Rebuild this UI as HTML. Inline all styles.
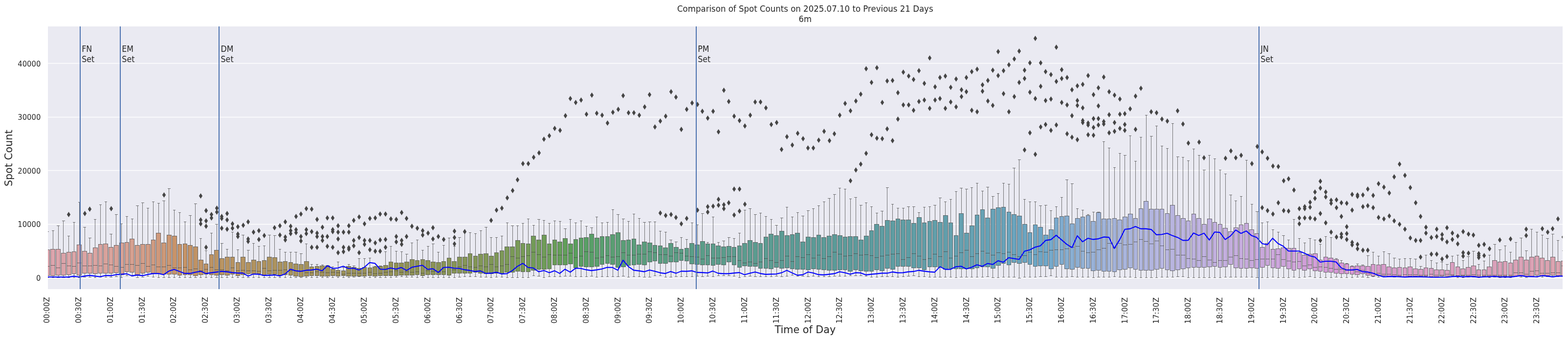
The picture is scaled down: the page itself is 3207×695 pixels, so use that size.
<!DOCTYPE html>
<html lang="en"><head><meta charset="utf-8"><title>Comparison of Spot Counts</title>
<style>html,body{margin:0;padding:0;background:#fff;}body{width:3207px;height:695px;overflow:hidden;}svg{display:block;}text{font-family:"DejaVu Sans","Liberation Sans",sans-serif;fill:#262626;}.tk{font-size:15.28px;}.an{font-size:16.67px;}.ti{font-size:16.67px;}.lb{font-size:20.83px;}.bx{stroke:#454545;stroke-width:0.75;}.wh{stroke:#454545;stroke-width:0.75;fill:none;}.fl{fill:#454545;}</style></head><body>
<svg width="3207" height="695" viewBox="0 0 3207 695">
<rect x="0" y="0" width="3207" height="695" fill="#ffffff"/>
<rect x="98.0" y="54.0" width="3098.0" height="537.0" fill="#eaeaf2"/>
<clipPath id="ax"><rect x="98.0" y="54.0" width="3098.0" height="537.0"/></clipPath>
<g stroke="#ffffff" stroke-width="1.39">
<line x1="98.0" x2="3196.0" y1="568.5" y2="568.5"/>
<line x1="98.0" x2="3196.0" y1="458.5" y2="458.5"/>
<line x1="98.0" x2="3196.0" y1="348.5" y2="348.5"/>
<line x1="98.0" x2="3196.0" y1="239.5" y2="239.5"/>
<line x1="98.0" x2="3196.0" y1="129.5" y2="129.5"/>
</g>
<g clip-path="url(#ax)">
<path class="wh" d="M97.5 510.5V473.5M95.0 473.5H100.0M97.5 563.5V567.5M95.0 567.5H100.0"/>
<rect class="bx" x="93.5" y="510.5" width="8.0" height="53.0" fill="#dca4ad"/>
<path class="wh" d="M93.5 544.5H101.5"/>
<path class="wh" d="M108.5 509.5V471.5M106.0 471.5H111.0M108.5 563.5V567.5M106.0 567.5H111.0"/>
<rect class="bx" x="103.5" y="509.5" width="9.0" height="54.0" fill="#dca4ac"/>
<path class="wh" d="M103.5 542.5H112.5"/>
<path class="wh" d="M119.5 509.5V461.5M116.0 461.5H122.0M119.5 562.5V567.5M116.0 567.5H122.0"/>
<rect class="bx" x="114.5" y="509.5" width="9.0" height="53.0" fill="#dca4ab"/>
<path class="wh" d="M114.5 547.5H123.5"/>
<path class="wh" d="M129.5 517.5V451.5M127.0 451.5H133.0M129.5 562.5V567.5M127.0 567.5H133.0"/>
<rect class="bx" x="125.5" y="517.5" width="9.0" height="45.0" fill="#dca4aa"/>
<path class="wh" d="M125.5 538.5H134.5"/>
<path class="wh" d="M140.5 515.5V482.5M138.0 482.5H143.0M140.5 561.5V567.5M138.0 567.5H143.0"/>
<rect class="bx" x="136.5" y="515.5" width="9.0" height="46.0" fill="#dca5a8"/>
<path class="wh" d="M136.5 543.5H145.5"/>
<path class="wh" d="M151.5 514.5V454.5M149.0 454.5H154.0M151.5 559.5V567.5M149.0 567.5H154.0"/>
<rect class="bx" x="147.5" y="514.5" width="8.0" height="45.0" fill="#dca5a7"/>
<path class="wh" d="M147.5 544.5H155.5"/>
<path class="wh" d="M162.5 500.5V413.5M160.0 413.5H165.0M162.5 562.5V567.5M160.0 567.5H165.0"/>
<rect class="bx" x="157.5" y="500.5" width="9.0" height="62.0" fill="#dca5a6"/>
<path class="wh" d="M157.5 537.5H166.5"/>
<path class="wh" d="M173.5 513.5V464.5M170.0 464.5H176.0M173.5 558.5V566.5M170.0 566.5H176.0"/>
<rect class="bx" x="168.5" y="513.5" width="9.0" height="45.0" fill="#dca5a5"/>
<path class="wh" d="M168.5 543.5H177.5"/>
<path class="wh" d="M183.5 517.5V486.5M181.0 486.5H187.0M183.5 558.5V566.5M181.0 566.5H187.0"/>
<rect class="bx" x="179.5" y="517.5" width="9.0" height="41.0" fill="#dba4a3"/>
<path class="wh" d="M179.5 543.5H188.5"/>
<path class="wh" d="M194.5 506.5V448.5M192.0 448.5H197.0M194.5 559.5V567.5M192.0 567.5H197.0"/>
<rect class="bx" x="190.5" y="506.5" width="9.0" height="53.0" fill="#dba4a1"/>
<path class="wh" d="M190.5 542.5H199.5"/>
<path class="wh" d="M205.5 499.5V418.5M203.0 418.5H208.0M205.5 558.5V566.5M203.0 566.5H208.0"/>
<rect class="bx" x="201.5" y="499.5" width="8.0" height="59.0" fill="#daa39f"/>
<path class="wh" d="M201.5 543.5H209.5"/>
<path class="wh" d="M216.5 498.5V412.5M214.0 412.5H219.0M216.5 558.5V566.5M214.0 566.5H219.0"/>
<rect class="bx" x="211.5" y="498.5" width="9.0" height="60.0" fill="#d9a39c"/>
<path class="wh" d="M211.5 539.5H220.5"/>
<path class="wh" d="M227.5 505.5V478.5M224.0 478.5H230.0M227.5 558.5V566.5M224.0 566.5H230.0"/>
<rect class="bx" x="222.5" y="505.5" width="9.0" height="53.0" fill="#d9a29a"/>
<path class="wh" d="M222.5 541.5H231.5"/>
<path class="wh" d="M237.5 501.5V438.5M235.0 438.5H241.0M237.5 557.5V565.5M235.0 565.5H241.0"/>
<rect class="bx" x="233.5" y="501.5" width="9.0" height="56.0" fill="#d8a197"/>
<path class="wh" d="M233.5 544.5H242.5"/>
<path class="wh" d="M248.5 496.5V457.5M246.0 457.5H251.0M248.5 561.5V567.5M246.0 567.5H251.0"/>
<rect class="bx" x="244.5" y="496.5" width="9.0" height="65.0" fill="#d7a195"/>
<path class="wh" d="M244.5 546.5H253.5"/>
<path class="wh" d="M259.5 495.5V442.5M257.0 442.5H262.0M259.5 555.5V563.5M257.0 563.5H262.0"/>
<rect class="bx" x="255.5" y="495.5" width="8.0" height="60.0" fill="#d6a092"/>
<path class="wh" d="M255.5 540.5H263.5"/>
<path class="wh" d="M270.5 488.5V447.5M268.0 447.5H273.0M270.5 556.5V564.5M268.0 564.5H273.0"/>
<rect class="bx" x="265.5" y="488.5" width="9.0" height="68.0" fill="#d59f8f"/>
<path class="wh" d="M265.5 540.5H274.5"/>
<path class="wh" d="M281.5 501.5V420.5M278.0 420.5H284.0M281.5 561.5V567.5M278.0 567.5H284.0"/>
<rect class="bx" x="276.5" y="501.5" width="9.0" height="60.0" fill="#d49e8c"/>
<path class="wh" d="M276.5 542.5H285.5"/>
<path class="wh" d="M291.5 499.5V414.5M289.0 414.5H295.0M291.5 558.5V566.5M289.0 566.5H295.0"/>
<rect class="bx" x="287.5" y="499.5" width="9.0" height="59.0" fill="#d39d88"/>
<path class="wh" d="M287.5 538.5H296.5"/>
<path class="wh" d="M302.5 499.5V425.5M300.0 425.5H305.0M302.5 556.5V564.5M300.0 564.5H305.0"/>
<rect class="bx" x="298.5" y="499.5" width="9.0" height="57.0" fill="#d29c85"/>
<path class="wh" d="M298.5 544.5H307.5"/>
<path class="wh" d="M313.5 490.5V412.5M311.0 412.5H316.0M313.5 558.5V566.5M311.0 566.5H316.0"/>
<rect class="bx" x="309.5" y="490.5" width="8.0" height="68.0" fill="#d09b81"/>
<path class="wh" d="M309.5 541.5H317.5"/>
<path class="wh" d="M324.5 476.5V415.5M322.0 415.5H327.0M324.5 559.5V567.5M322.0 567.5H327.0"/>
<rect class="bx" x="319.5" y="476.5" width="9.0" height="83.0" fill="#cf997c"/>
<path class="wh" d="M319.5 545.5H328.5"/>
<path class="wh" d="M335.5 496.5V410.5M332.0 410.5H338.0M335.5 560.5V567.5M332.0 567.5H338.0"/>
<rect class="bx" x="330.5" y="496.5" width="9.0" height="64.0" fill="#cd9877"/>
<path class="wh" d="M330.5 545.5H339.5"/>
<path class="wh" d="M345.5 480.5V385.5M343.0 385.5H349.0M345.5 560.5V567.5M343.0 567.5H349.0"/>
<rect class="bx" x="341.5" y="480.5" width="9.0" height="80.0" fill="#cb9671"/>
<path class="wh" d="M341.5 542.5H350.5"/>
<path class="wh" d="M356.5 482.5V429.5M354.0 429.5H359.0M356.5 560.5V567.5M354.0 567.5H359.0"/>
<rect class="bx" x="352.5" y="482.5" width="9.0" height="78.0" fill="#c9946a"/>
<path class="wh" d="M352.5 547.5H361.5"/>
<path class="wh" d="M367.5 499.5V434.5M365.0 434.5H370.0M367.5 562.5V567.5M365.0 567.5H370.0"/>
<rect class="bx" x="363.5" y="499.5" width="8.0" height="63.0" fill="#c79367"/>
<path class="wh" d="M363.5 547.5H371.5"/>
<path class="wh" d="M378.5 498.5V453.5M376.0 453.5H381.0M378.5 561.5V567.5M376.0 567.5H381.0"/>
<rect class="bx" x="374.5" y="498.5" width="8.0" height="63.0" fill="#c59366"/>
<path class="wh" d="M374.5 546.5H382.5"/>
<path class="wh" d="M389.5 501.5V440.5M386.0 440.5H392.0M389.5 561.5V567.5M386.0 567.5H392.0"/>
<rect class="bx" x="384.5" y="501.5" width="9.0" height="60.0" fill="#c39366"/>
<path class="wh" d="M384.5 551.5H393.5"/>
<path class="wh" d="M399.5 504.5V416.5M397.0 416.5H403.0M399.5 563.5V567.5M397.0 567.5H403.0"/>
<rect class="bx" x="395.5" y="504.5" width="9.0" height="59.0" fill="#c19365"/>
<path class="wh" d="M395.5 549.5H404.5"/>
<path class="wh" d="M410.5 531.5V487.5M408.0 487.5H413.0M410.5 561.5V567.5M408.0 567.5H413.0"/>
<rect class="bx" x="406.5" y="531.5" width="9.0" height="30.0" fill="#c09364"/>
<path class="wh" d="M406.5 553.5H415.5"/>
<path class="wh" d="M421.5 539.5V512.5M419.0 512.5H424.0M421.5 560.5V567.5M419.0 567.5H424.0"/>
<rect class="bx" x="417.5" y="539.5" width="8.0" height="21.0" fill="#be9364"/>
<path class="wh" d="M417.5 550.5H425.5"/>
<path class="wh" d="M432.5 520.5V476.5M430.0 476.5H435.0M432.5 561.5V567.5M430.0 567.5H435.0"/>
<rect class="bx" x="428.5" y="520.5" width="8.0" height="41.0" fill="#bd9363"/>
<path class="wh" d="M428.5 546.5H436.5"/>
<path class="wh" d="M443.5 511.5V458.5M440.0 458.5H446.0M443.5 562.5V567.5M440.0 567.5H446.0"/>
<rect class="bx" x="438.5" y="511.5" width="9.0" height="51.0" fill="#bb9463"/>
<path class="wh" d="M438.5 551.5H447.5"/>
<path class="wh" d="M453.5 528.5V497.5M451.0 497.5H457.0M453.5 561.5V567.5M451.0 567.5H457.0"/>
<rect class="bx" x="449.5" y="528.5" width="9.0" height="33.0" fill="#b99462"/>
<path class="wh" d="M449.5 551.5H458.5"/>
<path class="wh" d="M464.5 525.5V509.5M462.0 509.5H467.0M464.5 562.5V567.5M462.0 567.5H467.0"/>
<rect class="bx" x="460.5" y="525.5" width="9.0" height="37.0" fill="#b89462"/>
<path class="wh" d="M460.5 553.5H469.5"/>
<path class="wh" d="M475.5 525.5V474.5M473.0 474.5H478.0M475.5 560.5V567.5M473.0 567.5H478.0"/>
<rect class="bx" x="471.5" y="525.5" width="8.0" height="35.0" fill="#b79361"/>
<path class="wh" d="M471.5 547.5H479.5"/>
<path class="wh" d="M486.5 536.5V510.5M484.0 510.5H489.0M486.5 563.5V567.5M484.0 567.5H489.0"/>
<rect class="bx" x="482.5" y="536.5" width="8.0" height="27.0" fill="#b59361"/>
<path class="wh" d="M482.5 553.5H490.5"/>
<path class="wh" d="M497.5 525.5V480.5M494.0 480.5H500.0M497.5 561.5V567.5M494.0 567.5H500.0"/>
<rect class="bx" x="492.5" y="525.5" width="9.0" height="36.0" fill="#b49360"/>
<path class="wh" d="M492.5 552.5H501.5"/>
<path class="wh" d="M507.5 536.5V511.5M505.0 511.5H511.0M507.5 559.5V567.5M505.0 567.5H511.0"/>
<rect class="bx" x="503.5" y="536.5" width="9.0" height="23.0" fill="#b29360"/>
<path class="wh" d="M503.5 553.5H512.5"/>
<path class="wh" d="M518.5 531.5V497.5M516.0 497.5H521.0M518.5 560.5V567.5M516.0 567.5H521.0"/>
<rect class="bx" x="514.5" y="531.5" width="9.0" height="29.0" fill="#b1935f"/>
<path class="wh" d="M514.5 553.5H523.5"/>
<path class="wh" d="M529.5 534.5V503.5M527.0 503.5H532.0M529.5 559.5V567.5M527.0 567.5H532.0"/>
<rect class="bx" x="525.5" y="534.5" width="8.0" height="25.0" fill="#b0935f"/>
<path class="wh" d="M525.5 554.5H533.5"/>
<path class="wh" d="M540.5 532.5V502.5M538.0 502.5H543.0M540.5 563.5V567.5M538.0 567.5H543.0"/>
<rect class="bx" x="536.5" y="532.5" width="8.0" height="31.0" fill="#af935f"/>
<path class="wh" d="M536.5 548.5H544.5"/>
<path class="wh" d="M551.5 525.5V480.5M548.0 480.5H554.0M551.5 560.5V567.5M548.0 567.5H554.0"/>
<rect class="bx" x="546.5" y="525.5" width="9.0" height="35.0" fill="#ad935e"/>
<path class="wh" d="M546.5 553.5H555.5"/>
<path class="wh" d="M561.5 526.5V481.5M559.0 481.5H565.0M561.5 560.5V567.5M559.0 567.5H565.0"/>
<rect class="bx" x="557.5" y="526.5" width="9.0" height="34.0" fill="#ac935e"/>
<path class="wh" d="M557.5 552.5H566.5"/>
<path class="wh" d="M572.5 535.5V509.5M570.0 509.5H575.0M572.5 562.5V567.5M570.0 567.5H575.0"/>
<rect class="bx" x="568.5" y="535.5" width="9.0" height="27.0" fill="#ab935d"/>
<path class="wh" d="M568.5 552.5H577.5"/>
<path class="wh" d="M583.5 534.5V515.5M581.0 515.5H586.0M583.5 561.5V567.5M581.0 567.5H586.0"/>
<rect class="bx" x="579.5" y="534.5" width="8.0" height="27.0" fill="#aa935d"/>
<path class="wh" d="M579.5 551.5H587.5"/>
<path class="wh" d="M594.5 536.5V515.5M592.0 515.5H597.0M594.5 562.5V567.5M592.0 567.5H597.0"/>
<rect class="bx" x="590.5" y="536.5" width="8.0" height="26.0" fill="#a8935c"/>
<path class="wh" d="M590.5 553.5H598.5"/>
<path class="wh" d="M605.5 539.5V515.5M602.0 515.5H608.0M605.5 564.5V567.5M602.0 567.5H608.0"/>
<rect class="bx" x="600.5" y="539.5" width="9.0" height="25.0" fill="#a7935c"/>
<path class="wh" d="M600.5 553.5H609.5"/>
<path class="wh" d="M615.5 540.5V518.5M613.0 518.5H619.0M615.5 565.5V567.5M613.0 567.5H619.0"/>
<rect class="bx" x="611.5" y="540.5" width="9.0" height="25.0" fill="#a6935c"/>
<path class="wh" d="M611.5 554.5H620.5"/>
<path class="wh" d="M626.5 534.5V498.5M624.0 498.5H629.0M626.5 564.5V567.5M624.0 567.5H629.0"/>
<rect class="bx" x="622.5" y="534.5" width="9.0" height="30.0" fill="#a5935b"/>
<path class="wh" d="M622.5 557.5H631.5"/>
<path class="wh" d="M637.5 545.5V540.5M635.0 540.5H640.0M637.5 563.5V567.5M635.0 567.5H640.0"/>
<rect class="bx" x="633.5" y="545.5" width="8.0" height="18.0" fill="#a4935b"/>
<path class="wh" d="M633.5 557.5H641.5"/>
<path class="wh" d="M648.5 544.5V540.5M646.0 540.5H651.0M648.5 563.5V567.5M646.0 567.5H651.0"/>
<rect class="bx" x="644.5" y="544.5" width="8.0" height="19.0" fill="#a2925a"/>
<path class="wh" d="M644.5 555.5H652.5"/>
<path class="wh" d="M659.5 543.5V541.5M657.0 541.5H662.0M659.5 564.5V567.5M657.0 567.5H662.0"/>
<rect class="bx" x="654.5" y="543.5" width="9.0" height="21.0" fill="#a1925a"/>
<path class="wh" d="M654.5 556.5H663.5"/>
<path class="wh" d="M669.5 543.5V542.5M667.0 542.5H673.0M669.5 564.5V567.5M667.0 567.5H673.0"/>
<rect class="bx" x="665.5" y="543.5" width="9.0" height="21.0" fill="#a0925a"/>
<path class="wh" d="M665.5 557.5H674.5"/>
<path class="wh" d="M680.5 550.5V545.5M678.0 545.5H683.0M680.5 563.5V567.5M678.0 567.5H683.0"/>
<rect class="bx" x="676.5" y="550.5" width="9.0" height="13.0" fill="#9f9259"/>
<path class="wh" d="M676.5 556.5H685.5"/>
<path class="wh" d="M691.5 552.5V535.5M689.0 535.5H694.0M691.5 564.5V567.5M689.0 567.5H694.0"/>
<rect class="bx" x="687.5" y="552.5" width="8.0" height="12.0" fill="#9e9259"/>
<path class="wh" d="M687.5 557.5H695.5"/>
<path class="wh" d="M702.5 553.5V546.5M700.0 546.5H705.0M702.5 563.5V567.5M700.0 567.5H705.0"/>
<rect class="bx" x="698.5" y="553.5" width="8.0" height="10.0" fill="#9d9258"/>
<path class="wh" d="M698.5 560.5H706.5"/>
<path class="wh" d="M713.5 544.5V540.5M711.0 540.5H716.0M713.5 564.5V567.5M711.0 567.5H716.0"/>
<rect class="bx" x="708.5" y="544.5" width="9.0" height="20.0" fill="#9b9258"/>
<path class="wh" d="M708.5 558.5H717.5"/>
<path class="wh" d="M723.5 546.5V543.5M721.0 543.5H727.0M723.5 564.5V566.5M721.0 566.5H727.0"/>
<rect class="bx" x="719.5" y="546.5" width="9.0" height="18.0" fill="#9a9258"/>
<path class="wh" d="M719.5 558.5H728.5"/>
<path class="wh" d="M734.5 548.5V528.5M732.0 528.5H737.0M734.5 564.5V565.5M732.0 565.5H737.0"/>
<rect class="bx" x="730.5" y="548.5" width="9.0" height="16.0" fill="#999157"/>
<path class="wh" d="M730.5 558.5H739.5"/>
<path class="wh" d="M745.5 546.5V528.5M743.0 528.5H748.0M745.5 564.5V567.5M743.0 567.5H748.0"/>
<rect class="bx" x="741.5" y="546.5" width="8.0" height="18.0" fill="#989157"/>
<path class="wh" d="M741.5 558.5H749.5"/>
<path class="wh" d="M756.5 547.5V527.5M754.0 527.5H759.0M756.5 563.5V567.5M754.0 567.5H759.0"/>
<rect class="bx" x="752.5" y="547.5" width="8.0" height="16.0" fill="#979156"/>
<path class="wh" d="M752.5 556.5H760.5"/>
<path class="wh" d="M767.5 545.5V544.5M765.0 544.5H770.0M767.5 564.5V567.5M765.0 567.5H770.0"/>
<rect class="bx" x="762.5" y="545.5" width="9.0" height="19.0" fill="#959156"/>
<path class="wh" d="M762.5 559.5H771.5"/>
<path class="wh" d="M777.5 544.5V543.5M775.0 543.5H781.0M777.5 563.5V567.5M775.0 567.5H781.0"/>
<rect class="bx" x="773.5" y="544.5" width="9.0" height="19.0" fill="#949156"/>
<path class="wh" d="M773.5 558.5H782.5"/>
<path class="wh" d="M788.5 542.5V514.5M786.0 514.5H791.0M788.5 563.5V567.5M786.0 567.5H791.0"/>
<rect class="bx" x="784.5" y="542.5" width="9.0" height="21.0" fill="#939155"/>
<path class="wh" d="M784.5 556.5H793.5"/>
<path class="wh" d="M799.5 535.5V503.5M797.0 503.5H802.0M799.5 563.5V567.5M797.0 567.5H802.0"/>
<rect class="bx" x="795.5" y="535.5" width="8.0" height="28.0" fill="#929155"/>
<path class="wh" d="M795.5 555.5H803.5"/>
<path class="wh" d="M810.5 537.5V513.5M808.0 513.5H813.0M810.5 563.5V566.5M808.0 566.5H813.0"/>
<rect class="bx" x="806.5" y="537.5" width="8.0" height="26.0" fill="#909054"/>
<path class="wh" d="M806.5 553.5H814.5"/>
<path class="wh" d="M821.5 537.5V514.5M819.0 514.5H824.0M821.5 562.5V565.5M819.0 565.5H824.0"/>
<rect class="bx" x="816.5" y="537.5" width="9.0" height="25.0" fill="#909154"/>
<path class="wh" d="M816.5 556.5H825.5"/>
<path class="wh" d="M831.5 535.5V519.5M829.0 519.5H835.0M831.5 562.5V566.5M829.0 566.5H835.0"/>
<rect class="bx" x="827.5" y="535.5" width="9.0" height="27.0" fill="#8f9155"/>
<path class="wh" d="M827.5 555.5H836.5"/>
<path class="wh" d="M842.5 530.5V496.5M840.0 496.5H845.0M842.5 562.5V566.5M840.0 566.5H845.0"/>
<rect class="bx" x="838.5" y="530.5" width="9.0" height="32.0" fill="#8e9255"/>
<path class="wh" d="M838.5 556.5H847.5"/>
<path class="wh" d="M853.5 532.5V490.5M851.0 490.5H856.0M853.5 561.5V567.5M851.0 567.5H856.0"/>
<rect class="bx" x="849.5" y="532.5" width="8.0" height="29.0" fill="#8d9255"/>
<path class="wh" d="M849.5 555.5H857.5"/>
<path class="wh" d="M864.5 530.5V511.5M862.0 511.5H867.0M864.5 563.5V567.5M862.0 567.5H867.0"/>
<rect class="bx" x="860.5" y="530.5" width="8.0" height="33.0" fill="#8d9255"/>
<path class="wh" d="M860.5 558.5H868.5"/>
<path class="wh" d="M875.5 532.5V503.5M873.0 503.5H878.0M875.5 561.5V567.5M873.0 567.5H878.0"/>
<rect class="bx" x="870.5" y="532.5" width="9.0" height="29.0" fill="#8c9355"/>
<path class="wh" d="M870.5 553.5H879.5"/>
<path class="wh" d="M885.5 535.5V498.5M883.0 498.5H889.0M885.5 561.5V567.5M883.0 567.5H889.0"/>
<rect class="bx" x="881.5" y="535.5" width="9.0" height="26.0" fill="#8b9355"/>
<path class="wh" d="M881.5 554.5H890.5"/>
<path class="wh" d="M896.5 536.5V515.5M894.0 515.5H899.0M896.5 561.5V567.5M894.0 567.5H899.0"/>
<rect class="bx" x="892.5" y="536.5" width="9.0" height="25.0" fill="#8a9355"/>
<path class="wh" d="M892.5 555.5H901.5"/>
<path class="wh" d="M907.5 534.5V501.5M905.0 501.5H910.0M907.5 561.5V567.5M905.0 567.5H910.0"/>
<rect class="bx" x="903.5" y="534.5" width="8.0" height="27.0" fill="#899455"/>
<path class="wh" d="M903.5 555.5H911.5"/>
<path class="wh" d="M918.5 527.5V486.5M916.0 486.5H921.0M918.5 562.5V567.5M916.0 567.5H921.0"/>
<rect class="bx" x="914.5" y="527.5" width="8.0" height="35.0" fill="#889456"/>
<path class="wh" d="M914.5 546.5H922.5"/>
<path class="wh" d="M929.5 534.5V503.5M927.0 503.5H932.0M929.5 558.5V567.5M927.0 567.5H932.0"/>
<rect class="bx" x="924.5" y="534.5" width="9.0" height="24.0" fill="#879556"/>
<path class="wh" d="M924.5 551.5H933.5"/>
<path class="wh" d="M939.5 525.5V485.5M937.0 485.5H943.0M939.5 558.5V566.5M937.0 566.5H943.0"/>
<rect class="bx" x="935.5" y="525.5" width="9.0" height="33.0" fill="#869556"/>
<path class="wh" d="M935.5 545.5H944.5"/>
<path class="wh" d="M950.5 525.5V475.5M948.0 475.5H953.0M950.5 558.5V565.5M948.0 565.5H953.0"/>
<rect class="bx" x="946.5" y="525.5" width="9.0" height="33.0" fill="#859556"/>
<path class="wh" d="M946.5 542.5H955.5"/>
<path class="wh" d="M961.5 518.5V475.5M959.0 475.5H964.0M961.5 558.5V565.5M959.0 565.5H964.0"/>
<rect class="bx" x="957.5" y="518.5" width="8.0" height="40.0" fill="#849656"/>
<path class="wh" d="M957.5 545.5H965.5"/>
<path class="wh" d="M972.5 523.5V477.5M970.0 477.5H975.0M972.5 556.5V565.5M970.0 565.5H975.0"/>
<rect class="bx" x="968.5" y="523.5" width="8.0" height="33.0" fill="#839656"/>
<path class="wh" d="M968.5 546.5H976.5"/>
<path class="wh" d="M983.5 519.5V471.5M981.0 471.5H986.0M983.5 558.5V566.5M981.0 566.5H986.0"/>
<rect class="bx" x="978.5" y="519.5" width="9.0" height="39.0" fill="#829756"/>
<path class="wh" d="M978.5 543.5H987.5"/>
<path class="wh" d="M994.5 518.5V464.5M991.0 464.5H997.0M994.5 559.5V566.5M991.0 566.5H997.0"/>
<rect class="bx" x="989.5" y="518.5" width="9.0" height="41.0" fill="#819756"/>
<path class="wh" d="M989.5 545.5H998.5"/>
<path class="wh" d="M1004.5 523.5V485.5M1002.0 485.5H1007.0M1004.5 559.5V567.5M1002.0 567.5H1007.0"/>
<rect class="bx" x="1000.5" y="523.5" width="9.0" height="36.0" fill="#809757"/>
<path class="wh" d="M1000.5 540.5H1009.5"/>
<path class="wh" d="M1015.5 516.5V485.5M1013.0 485.5H1018.0M1015.5 558.5V566.5M1013.0 566.5H1018.0"/>
<rect class="bx" x="1011.5" y="516.5" width="8.0" height="42.0" fill="#7f9857"/>
<path class="wh" d="M1011.5 545.5H1019.5"/>
<path class="wh" d="M1026.5 512.5V482.5M1024.0 482.5H1029.0M1026.5 559.5V566.5M1024.0 566.5H1029.0"/>
<rect class="bx" x="1022.5" y="512.5" width="8.0" height="47.0" fill="#7d9857"/>
<path class="wh" d="M1022.5 543.5H1030.5"/>
<path class="wh" d="M1037.5 504.5V455.5M1035.0 455.5H1040.0M1037.5 556.5V567.5M1035.0 567.5H1040.0"/>
<rect class="bx" x="1032.5" y="504.5" width="9.0" height="52.0" fill="#7c9957"/>
<path class="wh" d="M1032.5 540.5H1041.5"/>
<path class="wh" d="M1048.5 504.5V461.5M1045.0 461.5H1051.0M1048.5 556.5V567.5M1045.0 567.5H1051.0"/>
<rect class="bx" x="1043.5" y="504.5" width="9.0" height="52.0" fill="#7a9957"/>
<path class="wh" d="M1043.5 524.5H1052.5"/>
<path class="wh" d="M1058.5 491.5V461.5M1056.0 461.5H1061.0M1058.5 554.5V567.5M1056.0 567.5H1061.0"/>
<rect class="bx" x="1054.5" y="491.5" width="9.0" height="63.0" fill="#799a57"/>
<path class="wh" d="M1054.5 527.5H1063.5"/>
<path class="wh" d="M1069.5 497.5V456.5M1067.0 456.5H1072.0M1069.5 555.5V567.5M1067.0 567.5H1072.0"/>
<rect class="bx" x="1065.5" y="497.5" width="8.0" height="58.0" fill="#779a57"/>
<path class="wh" d="M1065.5 524.5H1073.5"/>
<path class="wh" d="M1080.5 498.5V447.5M1078.0 447.5H1083.0M1080.5 555.5V567.5M1078.0 567.5H1083.0"/>
<rect class="bx" x="1076.5" y="498.5" width="8.0" height="57.0" fill="#759b58"/>
<path class="wh" d="M1076.5 522.5H1084.5"/>
<path class="wh" d="M1091.5 482.5V460.5M1089.0 460.5H1094.0M1091.5 552.5V563.5M1089.0 563.5H1094.0"/>
<rect class="bx" x="1086.5" y="482.5" width="9.0" height="70.0" fill="#739b58"/>
<path class="wh" d="M1086.5 515.5H1095.5"/>
<path class="wh" d="M1102.5 490.5V448.5M1099.0 448.5H1105.0M1102.5 550.5V564.5M1099.0 564.5H1105.0"/>
<rect class="bx" x="1097.5" y="490.5" width="9.0" height="60.0" fill="#719c58"/>
<path class="wh" d="M1097.5 520.5H1106.5"/>
<path class="wh" d="M1112.5 480.5V450.5M1110.0 450.5H1115.0M1112.5 550.5V567.5M1110.0 567.5H1115.0"/>
<rect class="bx" x="1108.5" y="480.5" width="9.0" height="70.0" fill="#6f9c58"/>
<path class="wh" d="M1108.5 525.5H1117.5"/>
<path class="wh" d="M1123.5 498.5V456.5M1121.0 456.5H1126.0M1123.5 549.5V565.5M1121.0 565.5H1126.0"/>
<rect class="bx" x="1119.5" y="498.5" width="8.0" height="51.0" fill="#6c9d58"/>
<path class="wh" d="M1119.5 520.5H1127.5"/>
<path class="wh" d="M1134.5 490.5V451.5M1132.0 451.5H1137.0M1134.5 541.5V565.5M1132.0 565.5H1137.0"/>
<rect class="bx" x="1130.5" y="490.5" width="8.0" height="51.0" fill="#699d58"/>
<path class="wh" d="M1130.5 521.5H1138.5"/>
<path class="wh" d="M1145.5 494.5V452.5M1143.0 452.5H1148.0M1145.5 541.5V565.5M1143.0 565.5H1148.0"/>
<rect class="bx" x="1140.5" y="494.5" width="9.0" height="47.0" fill="#659e59"/>
<path class="wh" d="M1140.5 521.5H1149.5"/>
<path class="wh" d="M1156.5 487.5V467.5M1153.0 467.5H1159.0M1156.5 541.5V564.5M1153.0 564.5H1159.0"/>
<rect class="bx" x="1151.5" y="487.5" width="9.0" height="54.0" fill="#619e59"/>
<path class="wh" d="M1151.5 521.5H1160.5"/>
<path class="wh" d="M1166.5 498.5V448.5M1164.0 448.5H1169.0M1166.5 539.5V564.5M1164.0 564.5H1169.0"/>
<rect class="bx" x="1162.5" y="498.5" width="9.0" height="41.0" fill="#5c9f59"/>
<path class="wh" d="M1162.5 517.5H1171.5"/>
<path class="wh" d="M1177.5 489.5V455.5M1175.0 455.5H1180.0M1177.5 547.5V565.5M1175.0 565.5H1180.0"/>
<rect class="bx" x="1173.5" y="489.5" width="8.0" height="58.0" fill="#599f5c"/>
<path class="wh" d="M1173.5 526.5H1181.5"/>
<path class="wh" d="M1188.5 486.5V451.5M1186.0 451.5H1191.0M1188.5 544.5V565.5M1186.0 565.5H1191.0"/>
<rect class="bx" x="1184.5" y="486.5" width="8.0" height="58.0" fill="#599f61"/>
<path class="wh" d="M1184.5 523.5H1192.5"/>
<path class="wh" d="M1199.5 485.5V462.5M1197.0 462.5H1202.0M1199.5 545.5V565.5M1197.0 565.5H1202.0"/>
<rect class="bx" x="1194.5" y="485.5" width="9.0" height="60.0" fill="#599f65"/>
<path class="wh" d="M1194.5 514.5H1203.5"/>
<path class="wh" d="M1210.5 478.5V465.5M1207.0 465.5H1213.0M1210.5 545.5V564.5M1207.0 564.5H1213.0"/>
<rect class="bx" x="1205.5" y="478.5" width="9.0" height="67.0" fill="#599f69"/>
<path class="wh" d="M1205.5 515.5H1214.5"/>
<path class="wh" d="M1220.5 486.5V443.5M1218.0 443.5H1223.0M1220.5 544.5V566.5M1218.0 566.5H1223.0"/>
<rect class="bx" x="1216.5" y="486.5" width="9.0" height="58.0" fill="#599f6c"/>
<path class="wh" d="M1216.5 527.5H1225.5"/>
<path class="wh" d="M1231.5 483.5V455.5M1229.0 455.5H1234.0M1231.5 540.5V565.5M1229.0 565.5H1234.0"/>
<rect class="bx" x="1227.5" y="483.5" width="8.0" height="57.0" fill="#599e6f"/>
<path class="wh" d="M1227.5 525.5H1235.5"/>
<path class="wh" d="M1242.5 483.5V454.5M1240.0 454.5H1245.0M1242.5 538.5V565.5M1240.0 565.5H1245.0"/>
<rect class="bx" x="1238.5" y="483.5" width="8.0" height="55.0" fill="#5a9e71"/>
<path class="wh" d="M1238.5 522.5H1246.5"/>
<path class="wh" d="M1253.5 479.5V428.5M1251.0 428.5H1256.0M1253.5 540.5V565.5M1251.0 565.5H1256.0"/>
<rect class="bx" x="1248.5" y="479.5" width="9.0" height="61.0" fill="#5a9e73"/>
<path class="wh" d="M1248.5 525.5H1257.5"/>
<path class="wh" d="M1264.5 475.5V438.5M1261.0 438.5H1267.0M1264.5 546.5V565.5M1261.0 565.5H1267.0"/>
<rect class="bx" x="1259.5" y="475.5" width="9.0" height="71.0" fill="#5a9e75"/>
<path class="wh" d="M1259.5 524.5H1268.5"/>
<path class="wh" d="M1274.5 491.5V447.5M1272.0 447.5H1278.0M1274.5 545.5V564.5M1272.0 564.5H1278.0"/>
<rect class="bx" x="1270.5" y="491.5" width="9.0" height="54.0" fill="#5a9e77"/>
<path class="wh" d="M1270.5 516.5H1279.5"/>
<path class="wh" d="M1285.5 490.5V452.5M1283.0 452.5H1288.0M1285.5 542.5V566.5M1283.0 566.5H1288.0"/>
<rect class="bx" x="1281.5" y="490.5" width="8.0" height="52.0" fill="#5a9e79"/>
<path class="wh" d="M1281.5 521.5H1289.5"/>
<path class="wh" d="M1296.5 488.5V437.5M1294.0 437.5H1299.0M1296.5 541.5V565.5M1294.0 565.5H1299.0"/>
<rect class="bx" x="1292.5" y="488.5" width="8.0" height="53.0" fill="#5a9e7b"/>
<path class="wh" d="M1292.5 521.5H1300.5"/>
<path class="wh" d="M1307.5 500.5V446.5M1305.0 446.5H1310.0M1307.5 540.5V565.5M1305.0 565.5H1310.0"/>
<rect class="bx" x="1302.5" y="500.5" width="9.0" height="40.0" fill="#5a9e7c"/>
<path class="wh" d="M1302.5 519.5H1311.5"/>
<path class="wh" d="M1318.5 494.5V454.5M1315.0 454.5H1321.0M1318.5 541.5V566.5M1315.0 566.5H1321.0"/>
<rect class="bx" x="1313.5" y="494.5" width="9.0" height="47.0" fill="#5a9d7d"/>
<path class="wh" d="M1313.5 519.5H1322.5"/>
<path class="wh" d="M1328.5 496.5V453.5M1326.0 453.5H1332.0M1328.5 535.5V566.5M1326.0 566.5H1332.0"/>
<rect class="bx" x="1324.5" y="496.5" width="9.0" height="39.0" fill="#5a9d7f"/>
<path class="wh" d="M1324.5 514.5H1333.5"/>
<path class="wh" d="M1339.5 501.5V453.5M1337.0 453.5H1342.0M1339.5 533.5V563.5M1337.0 563.5H1342.0"/>
<rect class="bx" x="1335.5" y="501.5" width="8.0" height="32.0" fill="#5a9d80"/>
<path class="wh" d="M1335.5 516.5H1343.5"/>
<path class="wh" d="M1350.5 502.5V472.5M1348.0 472.5H1353.0M1350.5 538.5V563.5M1348.0 563.5H1353.0"/>
<rect class="bx" x="1346.5" y="502.5" width="8.0" height="36.0" fill="#5a9d81"/>
<path class="wh" d="M1346.5 520.5H1354.5"/>
<path class="wh" d="M1361.5 506.5V474.5M1359.0 474.5H1364.0M1361.5 538.5V566.5M1359.0 566.5H1364.0"/>
<rect class="bx" x="1356.5" y="506.5" width="9.0" height="32.0" fill="#5a9d82"/>
<path class="wh" d="M1356.5 520.5H1365.5"/>
<path class="wh" d="M1372.5 497.5V490.5M1369.0 490.5H1375.0M1372.5 535.5V566.5M1369.0 566.5H1375.0"/>
<rect class="bx" x="1367.5" y="497.5" width="9.0" height="38.0" fill="#5a9d83"/>
<path class="wh" d="M1367.5 523.5H1376.5"/>
<path class="wh" d="M1382.5 505.5V494.5M1380.0 494.5H1386.0M1382.5 535.5V565.5M1380.0 565.5H1386.0"/>
<rect class="bx" x="1378.5" y="505.5" width="9.0" height="30.0" fill="#5a9d84"/>
<path class="wh" d="M1378.5 516.5H1387.5"/>
<path class="wh" d="M1393.5 509.5V485.5M1391.0 485.5H1396.0M1393.5 532.5V565.5M1391.0 565.5H1396.0"/>
<rect class="bx" x="1389.5" y="509.5" width="8.0" height="23.0" fill="#5a9d85"/>
<path class="wh" d="M1389.5 517.5H1397.5"/>
<path class="wh" d="M1404.5 507.5V489.5M1402.0 489.5H1407.0M1404.5 533.5V565.5M1402.0 565.5H1407.0"/>
<rect class="bx" x="1400.5" y="507.5" width="8.0" height="26.0" fill="#5a9d86"/>
<path class="wh" d="M1400.5 523.5H1408.5"/>
<path class="wh" d="M1415.5 497.5V455.5M1413.0 455.5H1418.0M1415.5 539.5V565.5M1413.0 565.5H1418.0"/>
<rect class="bx" x="1410.5" y="497.5" width="9.0" height="42.0" fill="#5a9d87"/>
<path class="wh" d="M1410.5 524.5H1419.5"/>
<path class="wh" d="M1426.5 500.5V459.5M1423.0 459.5H1429.0M1426.5 540.5V564.5M1423.0 564.5H1429.0"/>
<rect class="bx" x="1421.5" y="500.5" width="9.0" height="40.0" fill="#5a9d88"/>
<path class="wh" d="M1421.5 525.5H1430.5"/>
<path class="wh" d="M1436.5 493.5V436.5M1434.0 436.5H1440.0M1436.5 541.5V565.5M1434.0 565.5H1440.0"/>
<rect class="bx" x="1432.5" y="493.5" width="9.0" height="48.0" fill="#5a9d89"/>
<path class="wh" d="M1432.5 529.5H1441.5"/>
<path class="wh" d="M1447.5 498.5V495.5M1445.0 495.5H1450.0M1447.5 541.5V564.5M1445.0 564.5H1450.0"/>
<rect class="bx" x="1443.5" y="498.5" width="8.0" height="43.0" fill="#5a9c8a"/>
<path class="wh" d="M1443.5 522.5H1451.5"/>
<path class="wh" d="M1458.5 498.5V443.5M1456.0 443.5H1461.0M1458.5 542.5V565.5M1456.0 565.5H1461.0"/>
<rect class="bx" x="1454.5" y="498.5" width="8.0" height="44.0" fill="#5a9c8b"/>
<path class="wh" d="M1454.5 527.5H1462.5"/>
<path class="wh" d="M1469.5 502.5V495.5M1467.0 495.5H1472.0M1469.5 540.5V563.5M1467.0 563.5H1472.0"/>
<rect class="bx" x="1464.5" y="502.5" width="9.0" height="38.0" fill="#5a9c8b"/>
<path class="wh" d="M1464.5 527.5H1473.5"/>
<path class="wh" d="M1480.5 504.5V492.5M1477.0 492.5H1483.0M1480.5 541.5V563.5M1477.0 563.5H1483.0"/>
<rect class="bx" x="1475.5" y="504.5" width="9.0" height="37.0" fill="#5b9c8c"/>
<path class="wh" d="M1475.5 526.5H1484.5"/>
<path class="wh" d="M1490.5 503.5V485.5M1488.0 485.5H1494.0M1490.5 535.5V563.5M1488.0 563.5H1494.0"/>
<rect class="bx" x="1486.5" y="503.5" width="9.0" height="32.0" fill="#5b9c8d"/>
<path class="wh" d="M1486.5 524.5H1495.5"/>
<path class="wh" d="M1501.5 505.5V487.5M1499.0 487.5H1504.0M1501.5 541.5V564.5M1499.0 564.5H1504.0"/>
<rect class="bx" x="1497.5" y="505.5" width="8.0" height="36.0" fill="#5b9c8e"/>
<path class="wh" d="M1497.5 524.5H1505.5"/>
<path class="wh" d="M1512.5 502.5V476.5M1510.0 476.5H1515.0M1512.5 546.5V567.5M1510.0 567.5H1515.0"/>
<rect class="bx" x="1508.5" y="502.5" width="8.0" height="44.0" fill="#5b9c8e"/>
<path class="wh" d="M1508.5 532.5H1516.5"/>
<path class="wh" d="M1523.5 497.5V429.5M1521.0 429.5H1526.0M1523.5 543.5V565.5M1521.0 565.5H1526.0"/>
<rect class="bx" x="1518.5" y="497.5" width="9.0" height="46.0" fill="#5b9c8f"/>
<path class="wh" d="M1518.5 537.5H1527.5"/>
<path class="wh" d="M1534.5 491.5V426.5M1531.0 426.5H1537.0M1534.5 544.5V564.5M1531.0 564.5H1537.0"/>
<rect class="bx" x="1529.5" y="491.5" width="9.0" height="53.0" fill="#5b9c90"/>
<path class="wh" d="M1529.5 535.5H1538.5"/>
<path class="wh" d="M1544.5 495.5V438.5M1542.0 438.5H1548.0M1544.5 544.5V565.5M1542.0 565.5H1548.0"/>
<rect class="bx" x="1540.5" y="495.5" width="9.0" height="49.0" fill="#5b9c90"/>
<path class="wh" d="M1540.5 538.5H1549.5"/>
<path class="wh" d="M1555.5 497.5V435.5M1553.0 435.5H1558.0M1555.5 548.5V565.5M1553.0 565.5H1558.0"/>
<rect class="bx" x="1551.5" y="497.5" width="8.0" height="51.0" fill="#5b9c91"/>
<path class="wh" d="M1551.5 535.5H1559.5"/>
<path class="wh" d="M1566.5 484.5V442.5M1564.0 442.5H1569.0M1566.5 548.5V565.5M1564.0 565.5H1569.0"/>
<rect class="bx" x="1562.5" y="484.5" width="8.0" height="64.0" fill="#5b9c92"/>
<path class="wh" d="M1562.5 528.5H1570.5"/>
<path class="wh" d="M1577.5 478.5V448.5M1575.0 448.5H1580.0M1577.5 549.5V565.5M1575.0 565.5H1580.0"/>
<rect class="bx" x="1572.5" y="478.5" width="9.0" height="71.0" fill="#5b9c92"/>
<path class="wh" d="M1572.5 532.5H1581.5"/>
<path class="wh" d="M1588.5 481.5V460.5M1585.0 460.5H1591.0M1588.5 546.5V564.5M1585.0 564.5H1591.0"/>
<rect class="bx" x="1583.5" y="481.5" width="9.0" height="65.0" fill="#5b9c93"/>
<path class="wh" d="M1583.5 536.5H1592.5"/>
<path class="wh" d="M1598.5 472.5V445.5M1596.0 445.5H1602.0M1598.5 548.5V565.5M1596.0 565.5H1602.0"/>
<rect class="bx" x="1594.5" y="472.5" width="9.0" height="76.0" fill="#5b9b94"/>
<path class="wh" d="M1594.5 532.5H1603.5"/>
<path class="wh" d="M1609.5 481.5V423.5M1607.0 423.5H1612.0M1609.5 547.5V564.5M1607.0 564.5H1612.0"/>
<rect class="bx" x="1605.5" y="481.5" width="9.0" height="66.0" fill="#5b9b94"/>
<path class="wh" d="M1605.5 523.5H1614.5"/>
<path class="wh" d="M1620.5 479.5V443.5M1618.0 443.5H1623.0M1620.5 549.5V562.5M1618.0 562.5H1623.0"/>
<rect class="bx" x="1616.5" y="479.5" width="8.0" height="70.0" fill="#5b9b95"/>
<path class="wh" d="M1616.5 534.5H1624.5"/>
<path class="wh" d="M1631.5 476.5V434.5M1629.0 434.5H1634.0M1631.5 550.5V564.5M1629.0 564.5H1634.0"/>
<rect class="bx" x="1626.5" y="476.5" width="9.0" height="74.0" fill="#5b9b95"/>
<path class="wh" d="M1626.5 524.5H1635.5"/>
<path class="wh" d="M1642.5 494.5V441.5M1639.0 441.5H1645.0M1642.5 550.5V564.5M1639.0 564.5H1645.0"/>
<rect class="bx" x="1637.5" y="494.5" width="9.0" height="56.0" fill="#5b9b96"/>
<path class="wh" d="M1637.5 526.5H1646.5"/>
<path class="wh" d="M1652.5 484.5V430.5M1650.0 430.5H1656.0M1652.5 551.5V565.5M1650.0 565.5H1656.0"/>
<rect class="bx" x="1648.5" y="484.5" width="9.0" height="67.0" fill="#5b9b96"/>
<path class="wh" d="M1648.5 520.5H1657.5"/>
<path class="wh" d="M1663.5 485.5V426.5M1661.0 426.5H1666.0M1663.5 549.5V564.5M1661.0 564.5H1666.0"/>
<rect class="bx" x="1659.5" y="485.5" width="9.0" height="64.0" fill="#5b9b97"/>
<path class="wh" d="M1659.5 527.5H1668.5"/>
<path class="wh" d="M1674.5 480.5V420.5M1672.0 420.5H1677.0M1674.5 550.5V565.5M1672.0 565.5H1677.0"/>
<rect class="bx" x="1670.5" y="480.5" width="8.0" height="70.0" fill="#5b9b98"/>
<path class="wh" d="M1670.5 521.5H1678.5"/>
<path class="wh" d="M1685.5 485.5V412.5M1683.0 412.5H1688.0M1685.5 551.5V565.5M1683.0 565.5H1688.0"/>
<rect class="bx" x="1680.5" y="485.5" width="9.0" height="66.0" fill="#5b9b98"/>
<path class="wh" d="M1680.5 528.5H1689.5"/>
<path class="wh" d="M1696.5 482.5V405.5M1693.0 405.5H1699.0M1696.5 552.5V565.5M1693.0 565.5H1699.0"/>
<rect class="bx" x="1691.5" y="482.5" width="9.0" height="70.0" fill="#5b9b99"/>
<path class="wh" d="M1691.5 524.5H1700.5"/>
<path class="wh" d="M1706.5 479.5V397.5M1704.0 397.5H1710.0M1706.5 552.5V564.5M1704.0 564.5H1710.0"/>
<rect class="bx" x="1702.5" y="479.5" width="9.0" height="73.0" fill="#5b9b99"/>
<path class="wh" d="M1702.5 515.5H1711.5"/>
<path class="wh" d="M1717.5 481.5V384.5M1715.0 384.5H1720.0M1717.5 551.5V564.5M1715.0 564.5H1720.0"/>
<rect class="bx" x="1713.5" y="481.5" width="9.0" height="70.0" fill="#5b9b9a"/>
<path class="wh" d="M1713.5 519.5H1722.5"/>
<path class="wh" d="M1728.5 484.5V386.5M1726.0 386.5H1731.0M1728.5 551.5V564.5M1726.0 564.5H1731.0"/>
<rect class="bx" x="1724.5" y="484.5" width="8.0" height="67.0" fill="#5b9b9a"/>
<path class="wh" d="M1724.5 523.5H1732.5"/>
<path class="wh" d="M1739.5 483.5V406.5M1737.0 406.5H1742.0M1739.5 554.5V563.5M1737.0 563.5H1742.0"/>
<rect class="bx" x="1734.5" y="483.5" width="9.0" height="71.0" fill="#5b9b9b"/>
<path class="wh" d="M1734.5 522.5H1743.5"/>
<path class="wh" d="M1750.5 483.5V403.5M1747.0 403.5H1753.0M1750.5 551.5V563.5M1747.0 563.5H1753.0"/>
<rect class="bx" x="1745.5" y="483.5" width="9.0" height="68.0" fill="#5c9b9c"/>
<path class="wh" d="M1745.5 518.5H1754.5"/>
<path class="wh" d="M1760.5 490.5V419.5M1758.0 419.5H1764.0M1760.5 553.5V563.5M1758.0 563.5H1764.0"/>
<rect class="bx" x="1756.5" y="490.5" width="9.0" height="63.0" fill="#5c9b9d"/>
<path class="wh" d="M1756.5 521.5H1765.5"/>
<path class="wh" d="M1771.5 482.5V414.5M1769.0 414.5H1774.0M1771.5 554.5V564.5M1769.0 564.5H1774.0"/>
<rect class="bx" x="1767.5" y="482.5" width="9.0" height="72.0" fill="#5c9c9e"/>
<path class="wh" d="M1767.5 520.5H1776.5"/>
<path class="wh" d="M1782.5 471.5V422.5M1780.0 422.5H1785.0M1782.5 554.5V566.5M1780.0 566.5H1785.0"/>
<rect class="bx" x="1778.5" y="471.5" width="8.0" height="83.0" fill="#5d9c9f"/>
<path class="wh" d="M1778.5 522.5H1786.5"/>
<path class="wh" d="M1793.5 458.5V435.5M1791.0 435.5H1796.0M1793.5 551.5V566.5M1791.0 566.5H1796.0"/>
<rect class="bx" x="1788.5" y="458.5" width="9.0" height="93.0" fill="#5d9ca0"/>
<path class="wh" d="M1788.5 526.5H1797.5"/>
<path class="wh" d="M1804.5 462.5V431.5M1801.0 431.5H1807.0M1804.5 553.5V565.5M1801.0 565.5H1807.0"/>
<rect class="bx" x="1799.5" y="462.5" width="9.0" height="91.0" fill="#5e9ca1"/>
<path class="wh" d="M1799.5 523.5H1808.5"/>
<path class="wh" d="M1814.5 450.5V383.5M1812.0 383.5H1818.0M1814.5 548.5V565.5M1812.0 565.5H1818.0"/>
<rect class="bx" x="1810.5" y="450.5" width="9.0" height="98.0" fill="#5e9da2"/>
<path class="wh" d="M1810.5 521.5H1819.5"/>
<path class="wh" d="M1825.5 451.5V417.5M1823.0 417.5H1828.0M1825.5 550.5V565.5M1823.0 565.5H1828.0"/>
<rect class="bx" x="1821.5" y="451.5" width="9.0" height="99.0" fill="#5e9da2"/>
<path class="wh" d="M1821.5 519.5H1830.5"/>
<path class="wh" d="M1836.5 447.5V425.5M1834.0 425.5H1839.0M1836.5 544.5V566.5M1834.0 566.5H1839.0"/>
<rect class="bx" x="1832.5" y="447.5" width="8.0" height="97.0" fill="#5f9da3"/>
<path class="wh" d="M1832.5 518.5H1840.5"/>
<path class="wh" d="M1847.5 449.5V425.5M1845.0 425.5H1850.0M1847.5 544.5V565.5M1845.0 565.5H1850.0"/>
<rect class="bx" x="1842.5" y="449.5" width="9.0" height="95.0" fill="#5f9da4"/>
<path class="wh" d="M1842.5 530.5H1851.5"/>
<path class="wh" d="M1858.5 449.5V422.5M1855.0 422.5H1861.0M1858.5 544.5V564.5M1855.0 564.5H1861.0"/>
<rect class="bx" x="1853.5" y="449.5" width="9.0" height="95.0" fill="#5f9ea5"/>
<path class="wh" d="M1853.5 526.5H1862.5"/>
<path class="wh" d="M1868.5 456.5V422.5M1866.0 422.5H1872.0M1868.5 547.5V563.5M1866.0 563.5H1872.0"/>
<rect class="bx" x="1864.5" y="456.5" width="9.0" height="91.0" fill="#609ea6"/>
<path class="wh" d="M1864.5 518.5H1873.5"/>
<path class="wh" d="M1879.5 444.5V434.5M1877.0 434.5H1882.0M1879.5 547.5V565.5M1877.0 565.5H1882.0"/>
<rect class="bx" x="1875.5" y="444.5" width="9.0" height="103.0" fill="#609ea7"/>
<path class="wh" d="M1875.5 523.5H1884.5"/>
<path class="wh" d="M1890.5 455.5V423.5M1888.0 423.5H1893.0M1890.5 551.5V565.5M1888.0 565.5H1893.0"/>
<rect class="bx" x="1886.5" y="455.5" width="8.0" height="96.0" fill="#619ea8"/>
<path class="wh" d="M1886.5 530.5H1894.5"/>
<path class="wh" d="M1901.5 452.5V422.5M1899.0 422.5H1904.0M1901.5 545.5V566.5M1899.0 566.5H1904.0"/>
<rect class="bx" x="1897.5" y="452.5" width="8.0" height="93.0" fill="#619fa9"/>
<path class="wh" d="M1897.5 528.5H1905.5"/>
<path class="wh" d="M1912.5 450.5V419.5M1909.0 419.5H1915.0M1912.5 545.5V566.5M1909.0 566.5H1915.0"/>
<rect class="bx" x="1907.5" y="450.5" width="9.0" height="95.0" fill="#619faa"/>
<path class="wh" d="M1907.5 519.5H1916.5"/>
<path class="wh" d="M1922.5 454.5V404.5M1920.0 404.5H1926.0M1922.5 546.5V566.5M1920.0 566.5H1926.0"/>
<rect class="bx" x="1918.5" y="454.5" width="9.0" height="92.0" fill="#629fab"/>
<path class="wh" d="M1918.5 524.5H1927.5"/>
<path class="wh" d="M1933.5 440.5V412.5M1931.0 412.5H1936.0M1933.5 550.5V566.5M1931.0 566.5H1936.0"/>
<rect class="bx" x="1929.5" y="440.5" width="9.0" height="110.0" fill="#629fac"/>
<path class="wh" d="M1929.5 514.5H1938.5"/>
<path class="wh" d="M1944.5 455.5V407.5M1942.0 407.5H1947.0M1944.5 548.5V566.5M1942.0 566.5H1947.0"/>
<rect class="bx" x="1940.5" y="455.5" width="8.0" height="93.0" fill="#63a0ad"/>
<path class="wh" d="M1940.5 527.5H1948.5"/>
<path class="wh" d="M1955.5 481.5V391.5M1953.0 391.5H1958.0M1955.5 549.5V567.5M1953.0 567.5H1958.0"/>
<rect class="bx" x="1951.5" y="481.5" width="8.0" height="68.0" fill="#63a0af"/>
<path class="wh" d="M1951.5 523.5H1959.5"/>
<path class="wh" d="M1966.5 436.5V384.5M1963.0 384.5H1969.0M1966.5 549.5V566.5M1963.0 566.5H1969.0"/>
<rect class="bx" x="1961.5" y="436.5" width="9.0" height="113.0" fill="#64a0b0"/>
<path class="wh" d="M1961.5 516.5H1970.5"/>
<path class="wh" d="M1976.5 476.5V386.5M1974.0 386.5H1980.0M1976.5 549.5V566.5M1974.0 566.5H1980.0"/>
<rect class="bx" x="1972.5" y="476.5" width="9.0" height="73.0" fill="#64a1b1"/>
<path class="wh" d="M1972.5 511.5H1981.5"/>
<path class="wh" d="M1987.5 461.5V383.5M1985.0 383.5H1990.0M1987.5 549.5V566.5M1985.0 566.5H1990.0"/>
<rect class="bx" x="1983.5" y="461.5" width="9.0" height="88.0" fill="#65a1b2"/>
<path class="wh" d="M1983.5 524.5H1992.5"/>
<path class="wh" d="M1998.5 439.5V374.5M1996.0 374.5H2001.0M1998.5 547.5V566.5M1996.0 566.5H2001.0"/>
<rect class="bx" x="1994.5" y="439.5" width="8.0" height="108.0" fill="#65a1b3"/>
<path class="wh" d="M1994.5 518.5H2002.5"/>
<path class="wh" d="M2009.5 428.5V390.5M2007.0 390.5H2012.0M2009.5 545.5V566.5M2007.0 566.5H2012.0"/>
<rect class="bx" x="2005.5" y="428.5" width="8.0" height="117.0" fill="#66a2b5"/>
<path class="wh" d="M2005.5 513.5H2013.5"/>
<path class="wh" d="M2020.5 445.5V382.5M2017.0 382.5H2023.0M2020.5 545.5V565.5M2017.0 565.5H2023.0"/>
<rect class="bx" x="2015.5" y="445.5" width="9.0" height="100.0" fill="#66a2b6"/>
<path class="wh" d="M2015.5 517.5H2024.5"/>
<path class="wh" d="M2030.5 427.5V401.5M2028.0 401.5H2034.0M2030.5 548.5V567.5M2028.0 567.5H2034.0"/>
<rect class="bx" x="2026.5" y="427.5" width="9.0" height="121.0" fill="#67a2b7"/>
<path class="wh" d="M2026.5 521.5H2035.5"/>
<path class="wh" d="M2041.5 424.5V395.5M2039.0 395.5H2044.0M2041.5 542.5V567.5M2039.0 567.5H2044.0"/>
<rect class="bx" x="2037.5" y="424.5" width="9.0" height="118.0" fill="#67a3b9"/>
<path class="wh" d="M2037.5 516.5H2046.5"/>
<path class="wh" d="M2052.5 423.5V374.5M2050.0 374.5H2055.0M2052.5 538.5V566.5M2050.0 566.5H2055.0"/>
<rect class="bx" x="2048.5" y="423.5" width="8.0" height="115.0" fill="#68a3ba"/>
<path class="wh" d="M2048.5 518.5H2056.5"/>
<path class="wh" d="M2063.5 433.5V376.5M2061.0 376.5H2066.0M2063.5 541.5V566.5M2061.0 566.5H2066.0"/>
<rect class="bx" x="2059.5" y="433.5" width="8.0" height="108.0" fill="#68a4bc"/>
<path class="wh" d="M2059.5 515.5H2067.5"/>
<path class="wh" d="M2074.5 438.5V343.5M2071.0 343.5H2077.0M2074.5 536.5V566.5M2071.0 566.5H2077.0"/>
<rect class="bx" x="2069.5" y="438.5" width="9.0" height="98.0" fill="#69a4bd"/>
<path class="wh" d="M2069.5 520.5H2078.5"/>
<path class="wh" d="M2084.5 441.5V326.5M2082.0 326.5H2088.0M2084.5 538.5V568.5M2082.0 568.5H2088.0"/>
<rect class="bx" x="2080.5" y="441.5" width="9.0" height="97.0" fill="#6aa4bf"/>
<path class="wh" d="M2080.5 524.5H2089.5"/>
<path class="wh" d="M2095.5 458.5V407.5M2093.0 407.5H2098.0M2095.5 536.5V566.5M2093.0 566.5H2098.0"/>
<rect class="bx" x="2091.5" y="458.5" width="9.0" height="78.0" fill="#6ba5c1"/>
<path class="wh" d="M2091.5 522.5H2100.5"/>
<path class="wh" d="M2106.5 475.5V412.5M2104.0 412.5H2109.0M2106.5 540.5V566.5M2104.0 566.5H2109.0"/>
<rect class="bx" x="2102.5" y="475.5" width="8.0" height="65.0" fill="#6ba5c3"/>
<path class="wh" d="M2102.5 515.5H2110.5"/>
<path class="wh" d="M2117.5 459.5V412.5M2115.0 412.5H2120.0M2117.5 544.5V566.5M2115.0 566.5H2120.0"/>
<rect class="bx" x="2113.5" y="459.5" width="8.0" height="85.0" fill="#6ca6c5"/>
<path class="wh" d="M2113.5 520.5H2121.5"/>
<path class="wh" d="M2128.5 464.5V420.5M2125.0 420.5H2131.0M2128.5 543.5V565.5M2125.0 565.5H2131.0"/>
<rect class="bx" x="2123.5" y="464.5" width="9.0" height="79.0" fill="#6da6c7"/>
<path class="wh" d="M2123.5 514.5H2132.5"/>
<path class="wh" d="M2138.5 480.5V419.5M2136.0 419.5H2142.0M2138.5 543.5V565.5M2136.0 565.5H2142.0"/>
<rect class="bx" x="2134.5" y="480.5" width="9.0" height="63.0" fill="#6ea7c9"/>
<path class="wh" d="M2134.5 515.5H2143.5"/>
<path class="wh" d="M2149.5 469.5V430.5M2147.0 430.5H2152.0M2149.5 549.5V563.5M2147.0 563.5H2152.0"/>
<rect class="bx" x="2145.5" y="469.5" width="9.0" height="80.0" fill="#75a9cb"/>
<path class="wh" d="M2145.5 511.5H2154.5"/>
<path class="wh" d="M2160.5 445.5V422.5M2158.0 422.5H2163.0M2160.5 544.5V566.5M2158.0 566.5H2163.0"/>
<rect class="bx" x="2156.5" y="445.5" width="8.0" height="99.0" fill="#7baacd"/>
<path class="wh" d="M2156.5 510.5H2164.5"/>
<path class="wh" d="M2171.5 442.5V403.5M2169.0 403.5H2174.0M2171.5 540.5V566.5M2169.0 566.5H2174.0"/>
<rect class="bx" x="2167.5" y="442.5" width="8.0" height="98.0" fill="#80accf"/>
<path class="wh" d="M2167.5 510.5H2175.5"/>
<path class="wh" d="M2182.5 441.5V367.5M2179.0 367.5H2185.0M2182.5 549.5V566.5M2179.0 566.5H2185.0"/>
<rect class="bx" x="2177.5" y="441.5" width="9.0" height="108.0" fill="#85add0"/>
<path class="wh" d="M2177.5 508.5H2186.5"/>
<path class="wh" d="M2192.5 457.5V375.5M2190.0 375.5H2196.0M2192.5 550.5V565.5M2190.0 565.5H2196.0"/>
<rect class="bx" x="2188.5" y="457.5" width="9.0" height="93.0" fill="#89aed2"/>
<path class="wh" d="M2188.5 505.5H2197.5"/>
<path class="wh" d="M2203.5 446.5V426.5M2201.0 426.5H2206.0M2203.5 546.5V566.5M2201.0 566.5H2206.0"/>
<rect class="bx" x="2199.5" y="446.5" width="9.0" height="100.0" fill="#8dafd3"/>
<path class="wh" d="M2199.5 503.5H2208.5"/>
<path class="wh" d="M2214.5 443.5V429.5M2212.0 429.5H2217.0M2214.5 548.5V566.5M2212.0 566.5H2217.0"/>
<rect class="bx" x="2210.5" y="443.5" width="8.0" height="105.0" fill="#91b0d4"/>
<path class="wh" d="M2210.5 513.5H2218.5"/>
<path class="wh" d="M2225.5 440.5V438.5M2223.0 438.5H2228.0M2225.5 548.5V566.5M2223.0 566.5H2228.0"/>
<rect class="bx" x="2221.5" y="440.5" width="8.0" height="108.0" fill="#94b0d5"/>
<path class="wh" d="M2221.5 516.5H2229.5"/>
<path class="wh" d="M2236.5 452.5V433.5M2234.0 433.5H2239.0M2236.5 553.5V567.5M2234.0 567.5H2239.0"/>
<rect class="bx" x="2231.5" y="452.5" width="9.0" height="101.0" fill="#98b1d7"/>
<path class="wh" d="M2231.5 515.5H2240.5"/>
<path class="wh" d="M2246.5 434.5V433.5M2244.0 433.5H2250.0M2246.5 552.5V566.5M2244.0 566.5H2250.0"/>
<rect class="bx" x="2242.5" y="434.5" width="9.0" height="118.0" fill="#9bb2d8"/>
<path class="wh" d="M2242.5 510.5H2251.5"/>
<path class="wh" d="M2257.5 447.5V289.5M2255.0 289.5H2260.0M2257.5 554.5V566.5M2255.0 566.5H2260.0"/>
<rect class="bx" x="2253.5" y="447.5" width="9.0" height="107.0" fill="#9eb2d9"/>
<path class="wh" d="M2253.5 507.5H2262.5"/>
<path class="wh" d="M2268.5 447.5V302.5M2266.0 302.5H2271.0M2268.5 554.5V566.5M2266.0 566.5H2271.0"/>
<rect class="bx" x="2264.5" y="447.5" width="8.0" height="107.0" fill="#a0b3d9"/>
<path class="wh" d="M2264.5 497.5H2272.5"/>
<path class="wh" d="M2279.5 446.5V342.5M2277.0 342.5H2282.0M2279.5 555.5V565.5M2277.0 565.5H2282.0"/>
<rect class="bx" x="2275.5" y="446.5" width="8.0" height="109.0" fill="#a3b3da"/>
<path class="wh" d="M2275.5 506.5H2283.5"/>
<path class="wh" d="M2290.5 449.5V313.5M2288.0 313.5H2293.0M2290.5 551.5V566.5M2288.0 566.5H2293.0"/>
<rect class="bx" x="2285.5" y="449.5" width="9.0" height="102.0" fill="#a6b4db"/>
<path class="wh" d="M2285.5 497.5H2294.5"/>
<path class="wh" d="M2300.5 443.5V317.5M2298.0 317.5H2304.0M2300.5 550.5V566.5M2298.0 566.5H2304.0"/>
<rect class="bx" x="2296.5" y="443.5" width="9.0" height="107.0" fill="#a8b4dc"/>
<path class="wh" d="M2296.5 500.5H2305.5"/>
<path class="wh" d="M2311.5 437.5V277.5M2309.0 277.5H2314.0M2311.5 547.5V566.5M2309.0 566.5H2314.0"/>
<rect class="bx" x="2307.5" y="437.5" width="9.0" height="110.0" fill="#aab5dd"/>
<path class="wh" d="M2307.5 499.5H2316.5"/>
<path class="wh" d="M2322.5 446.5V329.5M2320.0 329.5H2325.0M2322.5 550.5V567.5M2320.0 567.5H2325.0"/>
<rect class="bx" x="2318.5" y="446.5" width="8.0" height="104.0" fill="#adb5de"/>
<path class="wh" d="M2318.5 494.5H2326.5"/>
<path class="wh" d="M2333.5 426.5V280.5M2331.0 280.5H2336.0M2333.5 552.5V567.5M2331.0 567.5H2336.0"/>
<rect class="bx" x="2329.5" y="426.5" width="8.0" height="126.0" fill="#afb5de"/>
<path class="wh" d="M2329.5 489.5H2337.5"/>
<path class="wh" d="M2344.5 411.5V235.5M2342.0 235.5H2347.0M2344.5 552.5V567.5M2342.0 567.5H2347.0"/>
<rect class="bx" x="2339.5" y="411.5" width="9.0" height="141.0" fill="#b1b6df"/>
<path class="wh" d="M2339.5 493.5H2348.5"/>
<path class="wh" d="M2354.5 427.5V278.5M2352.0 278.5H2358.0M2354.5 552.5V567.5M2352.0 567.5H2358.0"/>
<rect class="bx" x="2350.5" y="427.5" width="9.0" height="125.0" fill="#b3b6e0"/>
<path class="wh" d="M2350.5 498.5H2359.5"/>
<path class="wh" d="M2365.5 427.5V257.5M2363.0 257.5H2368.0M2365.5 550.5V567.5M2363.0 567.5H2368.0"/>
<rect class="bx" x="2361.5" y="427.5" width="9.0" height="123.0" fill="#b5b6e0"/>
<path class="wh" d="M2361.5 492.5H2370.5"/>
<path class="wh" d="M2376.5 427.5V298.5M2374.0 298.5H2379.0M2376.5 548.5V566.5M2374.0 566.5H2379.0"/>
<rect class="bx" x="2372.5" y="427.5" width="8.0" height="121.0" fill="#b7b6e1"/>
<path class="wh" d="M2372.5 502.5H2380.5"/>
<path class="wh" d="M2387.5 436.5V303.5M2385.0 303.5H2390.0M2387.5 551.5V566.5M2385.0 566.5H2390.0"/>
<rect class="bx" x="2383.5" y="436.5" width="8.0" height="115.0" fill="#b8b5e0"/>
<path class="wh" d="M2383.5 510.5H2391.5"/>
<path class="wh" d="M2398.5 419.5V252.5M2396.0 252.5H2401.0M2398.5 553.5V566.5M2396.0 566.5H2401.0"/>
<rect class="bx" x="2393.5" y="419.5" width="9.0" height="134.0" fill="#b9b5e0"/>
<path class="wh" d="M2393.5 509.5H2402.5"/>
<path class="wh" d="M2408.5 440.5V320.5M2406.0 320.5H2412.0M2408.5 551.5V565.5M2406.0 565.5H2412.0"/>
<rect class="bx" x="2404.5" y="440.5" width="9.0" height="111.0" fill="#bab4e0"/>
<path class="wh" d="M2404.5 521.5H2413.5"/>
<path class="wh" d="M2419.5 446.5V321.5M2417.0 321.5H2422.0M2419.5 549.5V565.5M2417.0 565.5H2422.0"/>
<rect class="bx" x="2415.5" y="446.5" width="9.0" height="103.0" fill="#bbb3e0"/>
<path class="wh" d="M2415.5 521.5H2424.5"/>
<path class="wh" d="M2430.5 451.5V328.5M2428.0 328.5H2433.0M2430.5 547.5V567.5M2428.0 567.5H2433.0"/>
<rect class="bx" x="2426.5" y="451.5" width="8.0" height="96.0" fill="#bcb3e0"/>
<path class="wh" d="M2426.5 528.5H2434.5"/>
<path class="wh" d="M2441.5 437.5V304.5M2439.0 304.5H2444.0M2441.5 546.5V567.5M2439.0 567.5H2444.0"/>
<rect class="bx" x="2437.5" y="437.5" width="8.0" height="109.0" fill="#bdb2df"/>
<path class="wh" d="M2437.5 529.5H2445.5"/>
<path class="wh" d="M2452.5 446.5V317.5M2450.0 317.5H2455.0M2452.5 546.5V567.5M2450.0 567.5H2455.0"/>
<rect class="bx" x="2447.5" y="446.5" width="9.0" height="100.0" fill="#beb2df"/>
<path class="wh" d="M2447.5 532.5H2456.5"/>
<path class="wh" d="M2462.5 458.5V347.5M2460.0 347.5H2466.0M2462.5 546.5V567.5M2460.0 567.5H2466.0"/>
<rect class="bx" x="2458.5" y="458.5" width="9.0" height="88.0" fill="#bfb1df"/>
<path class="wh" d="M2458.5 524.5H2467.5"/>
<path class="wh" d="M2473.5 447.5V317.5M2471.0 317.5H2476.0M2473.5 545.5V567.5M2471.0 567.5H2476.0"/>
<rect class="bx" x="2469.5" y="447.5" width="9.0" height="98.0" fill="#c0b0df"/>
<path class="wh" d="M2469.5 531.5H2478.5"/>
<path class="wh" d="M2484.5 454.5V324.5M2482.0 324.5H2487.0M2484.5 544.5V567.5M2482.0 567.5H2487.0"/>
<rect class="bx" x="2480.5" y="454.5" width="8.0" height="90.0" fill="#c1afde"/>
<path class="wh" d="M2480.5 536.5H2488.5"/>
<path class="wh" d="M2495.5 458.5V347.5M2493.0 347.5H2498.0M2495.5 546.5V567.5M2493.0 567.5H2498.0"/>
<rect class="bx" x="2491.5" y="458.5" width="8.0" height="88.0" fill="#c2afde"/>
<path class="wh" d="M2491.5 532.5H2499.5"/>
<path class="wh" d="M2506.5 466.5V355.5M2504.0 355.5H2509.0M2506.5 545.5V566.5M2504.0 566.5H2509.0"/>
<rect class="bx" x="2501.5" y="466.5" width="9.0" height="79.0" fill="#c3aede"/>
<path class="wh" d="M2501.5 532.5H2510.5"/>
<path class="wh" d="M2517.5 473.5V398.5M2514.0 398.5H2520.0M2517.5 540.5V566.5M2514.0 566.5H2520.0"/>
<rect class="bx" x="2512.5" y="473.5" width="9.0" height="67.0" fill="#c4adde"/>
<path class="wh" d="M2512.5 525.5H2521.5"/>
<path class="wh" d="M2527.5 465.5V410.5M2525.0 410.5H2530.0M2527.5 547.5V566.5M2525.0 566.5H2530.0"/>
<rect class="bx" x="2523.5" y="465.5" width="9.0" height="82.0" fill="#c5addd"/>
<path class="wh" d="M2523.5 522.5H2532.5"/>
<path class="wh" d="M2538.5 459.5V401.5M2536.0 401.5H2541.0M2538.5 548.5V566.5M2536.0 566.5H2541.0"/>
<rect class="bx" x="2534.5" y="459.5" width="8.0" height="89.0" fill="#c6acdd"/>
<path class="wh" d="M2534.5 528.5H2542.5"/>
<path class="wh" d="M2549.5 456.5V327.5M2547.0 327.5H2552.0M2549.5 548.5V566.5M2547.0 566.5H2552.0"/>
<rect class="bx" x="2545.5" y="456.5" width="8.0" height="92.0" fill="#c7abdd"/>
<path class="wh" d="M2545.5 529.5H2553.5"/>
<path class="wh" d="M2560.5 469.5V417.5M2558.0 417.5H2563.0M2560.5 547.5V566.5M2558.0 566.5H2563.0"/>
<rect class="bx" x="2555.5" y="469.5" width="9.0" height="78.0" fill="#c8aadd"/>
<path class="wh" d="M2555.5 532.5H2564.5"/>
<path class="wh" d="M2571.5 477.5V432.5M2568.0 432.5H2574.0M2571.5 548.5V567.5M2568.0 567.5H2574.0"/>
<rect class="bx" x="2566.5" y="477.5" width="9.0" height="71.0" fill="#c9a9dc"/>
<path class="wh" d="M2566.5 530.5H2575.5"/>
<path class="wh" d="M2581.5 505.5V455.5M2579.0 455.5H2584.0M2581.5 546.5V567.5M2579.0 567.5H2584.0"/>
<rect class="bx" x="2577.5" y="505.5" width="9.0" height="41.0" fill="#caa8dc"/>
<path class="wh" d="M2577.5 529.5H2586.5"/>
<path class="wh" d="M2592.5 497.5V453.5M2590.0 453.5H2595.0M2592.5 542.5V567.5M2590.0 567.5H2595.0"/>
<rect class="bx" x="2588.5" y="497.5" width="8.0" height="45.0" fill="#cba8dc"/>
<path class="wh" d="M2588.5 529.5H2596.5"/>
<path class="wh" d="M2603.5 509.5V469.5M2601.0 469.5H2606.0M2603.5 547.5V566.5M2601.0 566.5H2606.0"/>
<rect class="bx" x="2599.5" y="509.5" width="8.0" height="38.0" fill="#cca7db"/>
<path class="wh" d="M2599.5 529.5H2607.5"/>
<path class="wh" d="M2614.5 508.5V474.5M2612.0 474.5H2617.0M2614.5 548.5V567.5M2612.0 567.5H2617.0"/>
<rect class="bx" x="2609.5" y="508.5" width="9.0" height="40.0" fill="#cca6db"/>
<path class="wh" d="M2609.5 520.5H2618.5"/>
<path class="wh" d="M2625.5 506.5V481.5M2622.0 481.5H2628.0M2625.5 544.5V567.5M2622.0 567.5H2628.0"/>
<rect class="bx" x="2620.5" y="506.5" width="9.0" height="38.0" fill="#cda5db"/>
<path class="wh" d="M2620.5 530.5H2629.5"/>
<path class="wh" d="M2635.5 507.5V490.5M2633.0 490.5H2638.0M2635.5 549.5V567.5M2633.0 567.5H2638.0"/>
<rect class="bx" x="2631.5" y="507.5" width="9.0" height="42.0" fill="#cea4da"/>
<path class="wh" d="M2631.5 533.5H2640.5"/>
<path class="wh" d="M2646.5 507.5V448.5M2644.0 448.5H2649.0M2646.5 552.5V566.5M2644.0 566.5H2649.0"/>
<rect class="bx" x="2642.5" y="507.5" width="8.0" height="45.0" fill="#cfa3da"/>
<path class="wh" d="M2642.5 535.5H2650.5"/>
<path class="wh" d="M2657.5 516.5V487.5M2655.0 487.5H2660.0M2657.5 549.5V567.5M2655.0 567.5H2660.0"/>
<rect class="bx" x="2653.5" y="516.5" width="8.0" height="33.0" fill="#d0a1da"/>
<path class="wh" d="M2653.5 534.5H2661.5"/>
<path class="wh" d="M2668.5 521.5V496.5M2666.0 496.5H2671.0M2668.5 552.5V566.5M2666.0 566.5H2671.0"/>
<rect class="bx" x="2663.5" y="521.5" width="9.0" height="31.0" fill="#d1a0d9"/>
<path class="wh" d="M2663.5 543.5H2672.5"/>
<path class="wh" d="M2679.5 519.5V487.5M2676.0 487.5H2682.0M2679.5 549.5V565.5M2676.0 565.5H2682.0"/>
<rect class="bx" x="2674.5" y="519.5" width="9.0" height="30.0" fill="#d29fd9"/>
<path class="wh" d="M2674.5 541.5H2683.5"/>
<path class="wh" d="M2689.5 518.5V490.5M2687.0 490.5H2692.0M2689.5 553.5V567.5M2687.0 567.5H2692.0"/>
<rect class="bx" x="2685.5" y="518.5" width="9.0" height="35.0" fill="#d39ed8"/>
<path class="wh" d="M2685.5 546.5H2694.5"/>
<path class="wh" d="M2700.5 531.5V499.5M2698.0 499.5H2703.0M2700.5 554.5V567.5M2698.0 567.5H2703.0"/>
<rect class="bx" x="2696.5" y="531.5" width="8.0" height="23.0" fill="#d49cd8"/>
<path class="wh" d="M2696.5 545.5H2704.5"/>
<path class="wh" d="M2711.5 525.5V483.5M2709.0 483.5H2714.0M2711.5 556.5V567.5M2709.0 567.5H2714.0"/>
<rect class="bx" x="2707.5" y="525.5" width="8.0" height="31.0" fill="#d59bd8"/>
<path class="wh" d="M2707.5 546.5H2715.5"/>
<path class="wh" d="M2722.5 527.5V485.5M2720.0 485.5H2725.0M2722.5 556.5V567.5M2720.0 567.5H2725.0"/>
<rect class="bx" x="2717.5" y="527.5" width="9.0" height="29.0" fill="#d699d7"/>
<path class="wh" d="M2717.5 548.5H2726.5"/>
<path class="wh" d="M2733.5 530.5V528.5M2730.0 528.5H2736.0M2733.5 558.5V566.5M2730.0 566.5H2736.0"/>
<rect class="bx" x="2728.5" y="530.5" width="9.0" height="28.0" fill="#d698d6"/>
<path class="wh" d="M2728.5 550.5H2737.5"/>
<path class="wh" d="M2743.5 537.5V532.5M2741.0 532.5H2746.0M2743.5 559.5V567.5M2741.0 567.5H2746.0"/>
<rect class="bx" x="2739.5" y="537.5" width="9.0" height="22.0" fill="#d798d5"/>
<path class="wh" d="M2739.5 550.5H2748.5"/>
<path class="wh" d="M2754.5 539.5V538.5M2752.0 538.5H2757.0M2754.5 559.5V567.5M2752.0 567.5H2757.0"/>
<rect class="bx" x="2750.5" y="539.5" width="8.0" height="20.0" fill="#d799d4"/>
<path class="wh" d="M2750.5 552.5H2758.5"/>
<path class="wh" d="M2765.5 544.5V543.5M2763.0 543.5H2768.0M2765.5 560.5V567.5M2763.0 567.5H2768.0"/>
<rect class="bx" x="2761.5" y="544.5" width="8.0" height="16.0" fill="#d799d3"/>
<path class="wh" d="M2761.5 552.5H2769.5"/>
<path class="wh" d="M2776.5 543.5V539.5M2774.0 539.5H2779.0M2776.5 561.5V566.5M2774.0 566.5H2779.0"/>
<rect class="bx" x="2771.5" y="543.5" width="9.0" height="18.0" fill="#d79ad2"/>
<path class="wh" d="M2771.5 555.5H2780.5"/>
<path class="wh" d="M2787.5 543.5V541.5M2784.0 541.5H2790.0M2787.5 559.5V566.5M2784.0 566.5H2790.0"/>
<rect class="bx" x="2782.5" y="543.5" width="9.0" height="16.0" fill="#d79ad1"/>
<path class="wh" d="M2782.5 552.5H2791.5"/>
<path class="wh" d="M2797.5 544.5V522.5M2795.0 522.5H2801.0M2797.5 562.5V567.5M2795.0 567.5H2801.0"/>
<rect class="bx" x="2793.5" y="544.5" width="9.0" height="18.0" fill="#d89bd0"/>
<path class="wh" d="M2793.5 558.5H2802.5"/>
<path class="wh" d="M2808.5 540.5V515.5M2806.0 515.5H2811.0M2808.5 564.5V565.5M2806.0 565.5H2811.0"/>
<rect class="bx" x="2804.5" y="540.5" width="8.0" height="24.0" fill="#d89bce"/>
<path class="wh" d="M2804.5 558.5H2812.5"/>
<path class="wh" d="M2819.5 541.5V523.5M2817.0 523.5H2822.0M2819.5 563.5V566.5M2817.0 566.5H2822.0"/>
<rect class="bx" x="2815.5" y="541.5" width="8.0" height="22.0" fill="#d89bcd"/>
<path class="wh" d="M2815.5 558.5H2823.5"/>
<path class="wh" d="M2830.5 540.5V514.5M2828.0 514.5H2833.0M2830.5 563.5V565.5M2828.0 565.5H2833.0"/>
<rect class="bx" x="2825.5" y="540.5" width="9.0" height="23.0" fill="#d89ccc"/>
<path class="wh" d="M2825.5 560.5H2834.5"/>
<path class="wh" d="M2841.5 545.5V518.5M2838.0 518.5H2844.0M2841.5 564.5V565.5M2838.0 565.5H2844.0"/>
<rect class="bx" x="2836.5" y="545.5" width="9.0" height="19.0" fill="#d89ccb"/>
<path class="wh" d="M2836.5 560.5H2845.5"/>
<path class="wh" d="M2851.5 547.5V527.5M2849.0 527.5H2855.0M2851.5 564.5V566.5M2849.0 566.5H2855.0"/>
<rect class="bx" x="2847.5" y="547.5" width="9.0" height="17.0" fill="#d89ccb"/>
<path class="wh" d="M2847.5 561.5H2856.5"/>
<path class="wh" d="M2862.5 546.5V529.5M2860.0 529.5H2865.0M2862.5 564.5V565.5M2860.0 565.5H2865.0"/>
<rect class="bx" x="2858.5" y="546.5" width="8.0" height="18.0" fill="#d99dca"/>
<path class="wh" d="M2858.5 562.5H2866.5"/>
<path class="wh" d="M2873.5 547.5V528.5M2871.0 528.5H2876.0M2873.5 565.5V566.5M2871.0 566.5H2876.0"/>
<rect class="bx" x="2869.5" y="547.5" width="8.0" height="18.0" fill="#d99dc9"/>
<path class="wh" d="M2869.5 561.5H2877.5"/>
<path class="wh" d="M2884.5 545.5V528.5M2882.0 528.5H2887.0M2884.5 564.5V565.5M2882.0 565.5H2887.0"/>
<rect class="bx" x="2879.5" y="545.5" width="9.0" height="19.0" fill="#d99dc8"/>
<path class="wh" d="M2879.5 561.5H2888.5"/>
<path class="wh" d="M2895.5 549.5V529.5M2892.0 529.5H2898.0M2895.5 564.5V565.5M2892.0 565.5H2898.0"/>
<rect class="bx" x="2890.5" y="549.5" width="9.0" height="15.0" fill="#d99dc7"/>
<path class="wh" d="M2890.5 561.5H2899.5"/>
<path class="wh" d="M2905.5 550.5V544.5M2903.0 544.5H2909.0M2905.5 564.5V565.5M2903.0 565.5H2909.0"/>
<rect class="bx" x="2901.5" y="550.5" width="9.0" height="14.0" fill="#d99ec6"/>
<path class="wh" d="M2901.5 562.5H2910.5"/>
<path class="wh" d="M2916.5 547.5V521.5M2914.0 521.5H2919.0M2916.5 564.5V565.5M2914.0 565.5H2919.0"/>
<rect class="bx" x="2912.5" y="547.5" width="8.0" height="17.0" fill="#d99ec5"/>
<path class="wh" d="M2912.5 562.5H2920.5"/>
<path class="wh" d="M2927.5 548.5V532.5M2925.0 532.5H2930.0M2927.5 565.5V566.5M2925.0 566.5H2930.0"/>
<rect class="bx" x="2923.5" y="548.5" width="8.0" height="17.0" fill="#d99ec4"/>
<path class="wh" d="M2923.5 560.5H2931.5"/>
<path class="wh" d="M2938.5 551.5V537.5M2936.0 537.5H2941.0M2938.5 565.5V566.5M2936.0 566.5H2941.0"/>
<rect class="bx" x="2933.5" y="551.5" width="9.0" height="14.0" fill="#d99fc3"/>
<path class="wh" d="M2933.5 562.5H2942.5"/>
<path class="wh" d="M2949.5 551.5V535.5M2946.0 535.5H2952.0M2949.5 564.5V566.5M2946.0 566.5H2952.0"/>
<rect class="bx" x="2944.5" y="551.5" width="9.0" height="13.0" fill="#d99fc2"/>
<path class="wh" d="M2944.5 562.5H2953.5"/>
<path class="wh" d="M2959.5 552.5V540.5M2957.0 540.5H2963.0M2959.5 564.5V566.5M2957.0 566.5H2963.0"/>
<rect class="bx" x="2955.5" y="552.5" width="9.0" height="12.0" fill="#da9fc2"/>
<path class="wh" d="M2955.5 560.5H2964.5"/>
<path class="wh" d="M2970.5 536.5V523.5M2968.0 523.5H2973.0M2970.5 563.5V565.5M2968.0 565.5H2973.0"/>
<rect class="bx" x="2966.5" y="536.5" width="8.0" height="27.0" fill="#da9fc1"/>
<path class="wh" d="M2966.5 561.5H2974.5"/>
<path class="wh" d="M2981.5 545.5V521.5M2979.0 521.5H2984.0M2981.5 564.5V567.5M2979.0 567.5H2984.0"/>
<rect class="bx" x="2977.5" y="545.5" width="8.0" height="19.0" fill="#da9fc0"/>
<path class="wh" d="M2977.5 563.5H2985.5"/>
<path class="wh" d="M2992.5 549.5V532.5M2990.0 532.5H2995.0M2992.5 563.5V567.5M2990.0 567.5H2995.0"/>
<rect class="bx" x="2987.5" y="549.5" width="9.0" height="14.0" fill="#daa0bf"/>
<path class="wh" d="M2987.5 562.5H2996.5"/>
<path class="wh" d="M3003.5 546.5V524.5M3000.0 524.5H3006.0M3003.5 564.5V566.5M3000.0 566.5H3006.0"/>
<rect class="bx" x="2998.5" y="546.5" width="9.0" height="18.0" fill="#daa0be"/>
<path class="wh" d="M2998.5 562.5H3007.5"/>
<path class="wh" d="M3013.5 543.5V513.5M3011.0 513.5H3017.0M3013.5 564.5V566.5M3011.0 566.5H3017.0"/>
<rect class="bx" x="3009.5" y="543.5" width="9.0" height="21.0" fill="#daa0bd"/>
<path class="wh" d="M3009.5 561.5H3018.5"/>
<path class="wh" d="M3024.5 551.5V540.5M3022.0 540.5H3027.0M3024.5 565.5V567.5M3022.0 567.5H3027.0"/>
<rect class="bx" x="3020.5" y="551.5" width="8.0" height="14.0" fill="#daa0bd"/>
<path class="wh" d="M3020.5 562.5H3028.5"/>
<path class="wh" d="M3035.5 551.5V533.5M3033.0 533.5H3038.0M3035.5 564.5V566.5M3033.0 566.5H3038.0"/>
<rect class="bx" x="3031.5" y="551.5" width="8.0" height="13.0" fill="#daa1bc"/>
<path class="wh" d="M3031.5 562.5H3039.5"/>
<path class="wh" d="M3046.5 545.5V521.5M3044.0 521.5H3049.0M3046.5 564.5V567.5M3044.0 567.5H3049.0"/>
<rect class="bx" x="3041.5" y="545.5" width="9.0" height="19.0" fill="#daa1bb"/>
<path class="wh" d="M3041.5 562.5H3050.5"/>
<path class="wh" d="M3057.5 532.5V499.5M3054.0 499.5H3060.0M3057.5 564.5V566.5M3054.0 566.5H3060.0"/>
<rect class="bx" x="3052.5" y="532.5" width="9.0" height="32.0" fill="#daa1ba"/>
<path class="wh" d="M3052.5 562.5H3061.5"/>
<path class="wh" d="M3067.5 535.5V510.5M3065.0 510.5H3071.0M3067.5 564.5V567.5M3065.0 567.5H3071.0"/>
<rect class="bx" x="3063.5" y="535.5" width="9.0" height="29.0" fill="#daa1b9"/>
<path class="wh" d="M3063.5 562.5H3072.5"/>
<path class="wh" d="M3078.5 534.5V502.5M3076.0 502.5H3081.0M3078.5 564.5V567.5M3076.0 567.5H3081.0"/>
<rect class="bx" x="3074.5" y="534.5" width="8.0" height="30.0" fill="#dba1b8"/>
<path class="wh" d="M3074.5 562.5H3082.5"/>
<path class="wh" d="M3089.5 537.5V515.5M3087.0 515.5H3092.0M3089.5 564.5V567.5M3087.0 567.5H3092.0"/>
<rect class="bx" x="3085.5" y="537.5" width="8.0" height="27.0" fill="#dba2b8"/>
<path class="wh" d="M3085.5 562.5H3093.5"/>
<path class="wh" d="M3100.5 531.5V495.5M3098.0 495.5H3103.0M3100.5 564.5V565.5M3098.0 565.5H3103.0"/>
<rect class="bx" x="3095.5" y="531.5" width="9.0" height="33.0" fill="#dba2b7"/>
<path class="wh" d="M3095.5 557.5H3104.5"/>
<path class="wh" d="M3111.5 525.5V486.5M3108.0 486.5H3114.0M3111.5 564.5V566.5M3108.0 566.5H3114.0"/>
<rect class="bx" x="3106.5" y="525.5" width="9.0" height="39.0" fill="#dba2b6"/>
<path class="wh" d="M3106.5 557.5H3115.5"/>
<path class="wh" d="M3121.5 531.5V512.5M3119.0 512.5H3125.0M3121.5 564.5V567.5M3119.0 567.5H3125.0"/>
<rect class="bx" x="3117.5" y="531.5" width="9.0" height="33.0" fill="#dba2b5"/>
<path class="wh" d="M3117.5 560.5H3126.5"/>
<path class="wh" d="M3132.5 525.5V468.5M3130.0 468.5H3135.0M3132.5 564.5V565.5M3130.0 565.5H3135.0"/>
<rect class="bx" x="3128.5" y="525.5" width="9.0" height="39.0" fill="#dba2b4"/>
<path class="wh" d="M3128.5 554.5H3137.5"/>
<path class="wh" d="M3143.5 523.5V474.5M3141.0 474.5H3146.0M3143.5 562.5V566.5M3141.0 566.5H3146.0"/>
<rect class="bx" x="3139.5" y="523.5" width="8.0" height="39.0" fill="#dba3b3"/>
<path class="wh" d="M3139.5 553.5H3147.5"/>
<path class="wh" d="M3154.5 527.5V480.5M3152.0 480.5H3157.0M3154.5 563.5V566.5M3152.0 566.5H3157.0"/>
<rect class="bx" x="3149.5" y="527.5" width="9.0" height="36.0" fill="#dba3b2"/>
<path class="wh" d="M3149.5 558.5H3158.5"/>
<path class="wh" d="M3165.5 532.5V487.5M3162.0 487.5H3168.0M3165.5 563.5V565.5M3162.0 565.5H3168.0"/>
<rect class="bx" x="3160.5" y="532.5" width="9.0" height="31.0" fill="#dba3b1"/>
<path class="wh" d="M3160.5 558.5H3169.5"/>
<path class="wh" d="M3175.5 525.5V478.5M3173.0 478.5H3179.0M3175.5 562.5V566.5M3173.0 566.5H3179.0"/>
<rect class="bx" x="3171.5" y="525.5" width="9.0" height="37.0" fill="#dba3b0"/>
<path class="wh" d="M3171.5 557.5H3180.5"/>
<path class="wh" d="M3186.5 534.5V491.5M3184.0 491.5H3189.0M3186.5 563.5V565.5M3184.0 565.5H3189.0"/>
<rect class="bx" x="3182.5" y="534.5" width="9.0" height="29.0" fill="#dba3af"/>
<path class="wh" d="M3182.5 557.5H3191.5"/>
<path class="wh" d="M3197.5 533.5V512.5M3195.0 512.5H3200.0M3197.5 563.5V565.5M3195.0 565.5H3200.0"/>
<rect class="bx" x="3193.5" y="533.5" width="8.0" height="30.0" fill="#dca4ae"/>
<path class="wh" d="M3193.5 543.5H3201.5"/>
<rect class="fl" x="-3.96" y="-3.96" width="7.92" height="7.92" transform="translate(140.5 438.5) scale(0.652 1) rotate(45)"/>
<rect class="fl" x="-3.96" y="-3.96" width="7.92" height="7.92" transform="translate(173.5 436.5) scale(0.652 1) rotate(45)"/>
<rect class="fl" x="-3.96" y="-3.96" width="7.92" height="7.92" transform="translate(183.5 427.5) scale(0.652 1) rotate(45)"/>
<rect class="fl" x="-3.96" y="-3.96" width="7.92" height="7.92" transform="translate(227.5 426.5) scale(0.652 1) rotate(45)"/>
<rect class="fl" x="-3.96" y="-3.96" width="7.92" height="7.92" transform="translate(335.5 398.5) scale(0.652 1) rotate(45)"/>
<rect class="fl" x="-3.96" y="-3.96" width="7.92" height="7.92" transform="translate(410.5 400.5) scale(0.652 1) rotate(45)"/>
<rect class="fl" x="-3.96" y="-3.96" width="7.92" height="7.92" transform="translate(410.5 449.5) scale(0.652 1) rotate(45)"/>
<rect class="fl" x="-3.96" y="-3.96" width="7.92" height="7.92" transform="translate(410.5 457.5) scale(0.652 1) rotate(45)"/>
<rect class="fl" x="-3.96" y="-3.96" width="7.92" height="7.92" transform="translate(421.5 505.5) scale(0.652 1) rotate(45)"/>
<rect class="fl" x="-3.96" y="-3.96" width="7.92" height="7.92" transform="translate(421.5 430.5) scale(0.652 1) rotate(45)"/>
<rect class="fl" x="-3.96" y="-3.96" width="7.92" height="7.92" transform="translate(421.5 462.5) scale(0.652 1) rotate(45)"/>
<rect class="fl" x="-3.96" y="-3.96" width="7.92" height="7.92" transform="translate(421.5 451.5) scale(0.652 1) rotate(45)"/>
<rect class="fl" x="-3.96" y="-3.96" width="7.92" height="7.92" transform="translate(432.5 438.5) scale(0.652 1) rotate(45)"/>
<rect class="fl" x="-3.96" y="-3.96" width="7.92" height="7.92" transform="translate(432.5 445.5) scale(0.652 1) rotate(45)"/>
<rect class="fl" x="-3.96" y="-3.96" width="7.92" height="7.92" transform="translate(443.5 425.5) scale(0.652 1) rotate(45)"/>
<rect class="fl" x="-3.96" y="-3.96" width="7.92" height="7.92" transform="translate(443.5 433.5) scale(0.652 1) rotate(45)"/>
<rect class="fl" x="-3.96" y="-3.96" width="7.92" height="7.92" transform="translate(453.5 442.5) scale(0.652 1) rotate(45)"/>
<rect class="fl" x="-3.96" y="-3.96" width="7.92" height="7.92" transform="translate(453.5 466.5) scale(0.652 1) rotate(45)"/>
<rect class="fl" x="-3.96" y="-3.96" width="7.92" height="7.92" transform="translate(453.5 446.5) scale(0.652 1) rotate(45)"/>
<rect class="fl" x="-3.96" y="-3.96" width="7.92" height="7.92" transform="translate(464.5 436.5) scale(0.652 1) rotate(45)"/>
<rect class="fl" x="-3.96" y="-3.96" width="7.92" height="7.92" transform="translate(464.5 468.5) scale(0.652 1) rotate(45)"/>
<rect class="fl" x="-3.96" y="-3.96" width="7.92" height="7.92" transform="translate(464.5 449.5) scale(0.652 1) rotate(45)"/>
<rect class="fl" x="-3.96" y="-3.96" width="7.92" height="7.92" transform="translate(475.5 466.5) scale(0.652 1) rotate(45)"/>
<rect class="fl" x="-3.96" y="-3.96" width="7.92" height="7.92" transform="translate(475.5 457.5) scale(0.652 1) rotate(45)"/>
<rect class="fl" x="-3.96" y="-3.96" width="7.92" height="7.92" transform="translate(486.5 483.5) scale(0.652 1) rotate(45)"/>
<rect class="fl" x="-3.96" y="-3.96" width="7.92" height="7.92" transform="translate(486.5 478.5) scale(0.652 1) rotate(45)"/>
<rect class="fl" x="-3.96" y="-3.96" width="7.92" height="7.92" transform="translate(486.5 463.5) scale(0.652 1) rotate(45)"/>
<rect class="fl" x="-3.96" y="-3.96" width="7.92" height="7.92" transform="translate(497.5 460.5) scale(0.652 1) rotate(45)"/>
<rect class="fl" x="-3.96" y="-3.96" width="7.92" height="7.92" transform="translate(507.5 493.5) scale(0.652 1) rotate(45)"/>
<rect class="fl" x="-3.96" y="-3.96" width="7.92" height="7.92" transform="translate(507.5 488.5) scale(0.652 1) rotate(45)"/>
<rect class="fl" x="-3.96" y="-3.96" width="7.92" height="7.92" transform="translate(507.5 453.5) scale(0.652 1) rotate(45)"/>
<rect class="fl" x="-3.96" y="-3.96" width="7.92" height="7.92" transform="translate(518.5 474.5) scale(0.652 1) rotate(45)"/>
<rect class="fl" x="-3.96" y="-3.96" width="7.92" height="7.92" transform="translate(529.5 489.5) scale(0.652 1) rotate(45)"/>
<rect class="fl" x="-3.96" y="-3.96" width="7.92" height="7.92" transform="translate(529.5 471.5) scale(0.652 1) rotate(45)"/>
<rect class="fl" x="-3.96" y="-3.96" width="7.92" height="7.92" transform="translate(540.5 481.5) scale(0.652 1) rotate(45)"/>
<rect class="fl" x="-3.96" y="-3.96" width="7.92" height="7.92" transform="translate(561.5 465.5) scale(0.652 1) rotate(45)"/>
<rect class="fl" x="-3.96" y="-3.96" width="7.92" height="7.92" transform="translate(572.5 480.5) scale(0.652 1) rotate(45)"/>
<rect class="fl" x="-3.96" y="-3.96" width="7.92" height="7.92" transform="translate(572.5 461.5) scale(0.652 1) rotate(45)"/>
<rect class="fl" x="-3.96" y="-3.96" width="7.92" height="7.92" transform="translate(583.5 490.5) scale(0.652 1) rotate(45)"/>
<rect class="fl" x="-3.96" y="-3.96" width="7.92" height="7.92" transform="translate(583.5 484.5) scale(0.652 1) rotate(45)"/>
<rect class="fl" x="-3.96" y="-3.96" width="7.92" height="7.92" transform="translate(583.5 453.5) scale(0.652 1) rotate(45)"/>
<rect class="fl" x="-3.96" y="-3.96" width="7.92" height="7.92" transform="translate(594.5 477.5) scale(0.652 1) rotate(45)"/>
<rect class="fl" x="-3.96" y="-3.96" width="7.92" height="7.92" transform="translate(594.5 471.5) scale(0.652 1) rotate(45)"/>
<rect class="fl" x="-3.96" y="-3.96" width="7.92" height="7.92" transform="translate(594.5 462.5) scale(0.652 1) rotate(45)"/>
<rect class="fl" x="-3.96" y="-3.96" width="7.92" height="7.92" transform="translate(605.5 475.5) scale(0.652 1) rotate(45)"/>
<rect class="fl" x="-3.96" y="-3.96" width="7.92" height="7.92" transform="translate(605.5 469.5) scale(0.652 1) rotate(45)"/>
<rect class="fl" x="-3.96" y="-3.96" width="7.92" height="7.92" transform="translate(605.5 442.5) scale(0.652 1) rotate(45)"/>
<rect class="fl" x="-3.96" y="-3.96" width="7.92" height="7.92" transform="translate(615.5 492.5) scale(0.652 1) rotate(45)"/>
<rect class="fl" x="-3.96" y="-3.96" width="7.92" height="7.92" transform="translate(615.5 483.5) scale(0.652 1) rotate(45)"/>
<rect class="fl" x="-3.96" y="-3.96" width="7.92" height="7.92" transform="translate(615.5 437.5) scale(0.652 1) rotate(45)"/>
<rect class="fl" x="-3.96" y="-3.96" width="7.92" height="7.92" transform="translate(626.5 426.5) scale(0.652 1) rotate(45)"/>
<rect class="fl" x="-3.96" y="-3.96" width="7.92" height="7.92" transform="translate(626.5 477.5) scale(0.652 1) rotate(45)"/>
<rect class="fl" x="-3.96" y="-3.96" width="7.92" height="7.92" transform="translate(626.5 469.5) scale(0.652 1) rotate(45)"/>
<rect class="fl" x="-3.96" y="-3.96" width="7.92" height="7.92" transform="translate(637.5 505.5) scale(0.652 1) rotate(45)"/>
<rect class="fl" x="-3.96" y="-3.96" width="7.92" height="7.92" transform="translate(637.5 427.5) scale(0.652 1) rotate(45)"/>
<rect class="fl" x="-3.96" y="-3.96" width="7.92" height="7.92" transform="translate(637.5 473.5) scale(0.652 1) rotate(45)"/>
<rect class="fl" x="-3.96" y="-3.96" width="7.92" height="7.92" transform="translate(648.5 505.5) scale(0.652 1) rotate(45)"/>
<rect class="fl" x="-3.96" y="-3.96" width="7.92" height="7.92" transform="translate(648.5 483.5) scale(0.652 1) rotate(45)"/>
<rect class="fl" x="-3.96" y="-3.96" width="7.92" height="7.92" transform="translate(648.5 476.5) scale(0.652 1) rotate(45)"/>
<rect class="fl" x="-3.96" y="-3.96" width="7.92" height="7.92" transform="translate(648.5 448.5) scale(0.652 1) rotate(45)"/>
<rect class="fl" x="-3.96" y="-3.96" width="7.92" height="7.92" transform="translate(659.5 491.5) scale(0.652 1) rotate(45)"/>
<rect class="fl" x="-3.96" y="-3.96" width="7.92" height="7.92" transform="translate(659.5 483.5) scale(0.652 1) rotate(45)"/>
<rect class="fl" x="-3.96" y="-3.96" width="7.92" height="7.92" transform="translate(659.5 464.5) scale(0.652 1) rotate(45)"/>
<rect class="fl" x="-3.96" y="-3.96" width="7.92" height="7.92" transform="translate(669.5 503.5) scale(0.652 1) rotate(45)"/>
<rect class="fl" x="-3.96" y="-3.96" width="7.92" height="7.92" transform="translate(669.5 483.5) scale(0.652 1) rotate(45)"/>
<rect class="fl" x="-3.96" y="-3.96" width="7.92" height="7.92" transform="translate(669.5 445.5) scale(0.652 1) rotate(45)"/>
<rect class="fl" x="-3.96" y="-3.96" width="7.92" height="7.92" transform="translate(680.5 505.5) scale(0.652 1) rotate(45)"/>
<rect class="fl" x="-3.96" y="-3.96" width="7.92" height="7.92" transform="translate(680.5 473.5) scale(0.652 1) rotate(45)"/>
<rect class="fl" x="-3.96" y="-3.96" width="7.92" height="7.92" transform="translate(680.5 469.5) scale(0.652 1) rotate(45)"/>
<rect class="fl" x="-3.96" y="-3.96" width="7.92" height="7.92" transform="translate(680.5 445.5) scale(0.652 1) rotate(45)"/>
<rect class="fl" x="-3.96" y="-3.96" width="7.92" height="7.92" transform="translate(691.5 516.5) scale(0.652 1) rotate(45)"/>
<rect class="fl" x="-3.96" y="-3.96" width="7.92" height="7.92" transform="translate(691.5 488.5) scale(0.652 1) rotate(45)"/>
<rect class="fl" x="-3.96" y="-3.96" width="7.92" height="7.92" transform="translate(691.5 474.5) scale(0.652 1) rotate(45)"/>
<rect class="fl" x="-3.96" y="-3.96" width="7.92" height="7.92" transform="translate(691.5 461.5) scale(0.652 1) rotate(45)"/>
<rect class="fl" x="-3.96" y="-3.96" width="7.92" height="7.92" transform="translate(702.5 514.5) scale(0.652 1) rotate(45)"/>
<rect class="fl" x="-3.96" y="-3.96" width="7.92" height="7.92" transform="translate(702.5 505.5) scale(0.652 1) rotate(45)"/>
<rect class="fl" x="-3.96" y="-3.96" width="7.92" height="7.92" transform="translate(702.5 474.5) scale(0.652 1) rotate(45)"/>
<rect class="fl" x="-3.96" y="-3.96" width="7.92" height="7.92" transform="translate(713.5 509.5) scale(0.652 1) rotate(45)"/>
<rect class="fl" x="-3.96" y="-3.96" width="7.92" height="7.92" transform="translate(713.5 506.5) scale(0.652 1) rotate(45)"/>
<rect class="fl" x="-3.96" y="-3.96" width="7.92" height="7.92" transform="translate(713.5 474.5) scale(0.652 1) rotate(45)"/>
<rect class="fl" x="-3.96" y="-3.96" width="7.92" height="7.92" transform="translate(713.5 461.5) scale(0.652 1) rotate(45)"/>
<rect class="fl" x="-3.96" y="-3.96" width="7.92" height="7.92" transform="translate(723.5 502.5) scale(0.652 1) rotate(45)"/>
<rect class="fl" x="-3.96" y="-3.96" width="7.92" height="7.92" transform="translate(723.5 491.5) scale(0.652 1) rotate(45)"/>
<rect class="fl" x="-3.96" y="-3.96" width="7.92" height="7.92" transform="translate(723.5 450.5) scale(0.652 1) rotate(45)"/>
<rect class="fl" x="-3.96" y="-3.96" width="7.92" height="7.92" transform="translate(734.5 516.5) scale(0.652 1) rotate(45)"/>
<rect class="fl" x="-3.96" y="-3.96" width="7.92" height="7.92" transform="translate(734.5 485.5) scale(0.652 1) rotate(45)"/>
<rect class="fl" x="-3.96" y="-3.96" width="7.92" height="7.92" transform="translate(734.5 443.5) scale(0.652 1) rotate(45)"/>
<rect class="fl" x="-3.96" y="-3.96" width="7.92" height="7.92" transform="translate(745.5 499.5) scale(0.652 1) rotate(45)"/>
<rect class="fl" x="-3.96" y="-3.96" width="7.92" height="7.92" transform="translate(745.5 491.5) scale(0.652 1) rotate(45)"/>
<rect class="fl" x="-3.96" y="-3.96" width="7.92" height="7.92" transform="translate(745.5 457.5) scale(0.652 1) rotate(45)"/>
<rect class="fl" x="-3.96" y="-3.96" width="7.92" height="7.92" transform="translate(756.5 510.5) scale(0.652 1) rotate(45)"/>
<rect class="fl" x="-3.96" y="-3.96" width="7.92" height="7.92" transform="translate(756.5 491.5) scale(0.652 1) rotate(45)"/>
<rect class="fl" x="-3.96" y="-3.96" width="7.92" height="7.92" transform="translate(756.5 446.5) scale(0.652 1) rotate(45)"/>
<rect class="fl" x="-3.96" y="-3.96" width="7.92" height="7.92" transform="translate(767.5 513.5) scale(0.652 1) rotate(45)"/>
<rect class="fl" x="-3.96" y="-3.96" width="7.92" height="7.92" transform="translate(767.5 496.5) scale(0.652 1) rotate(45)"/>
<rect class="fl" x="-3.96" y="-3.96" width="7.92" height="7.92" transform="translate(767.5 445.5) scale(0.652 1) rotate(45)"/>
<rect class="fl" x="-3.96" y="-3.96" width="7.92" height="7.92" transform="translate(777.5 513.5) scale(0.652 1) rotate(45)"/>
<rect class="fl" x="-3.96" y="-3.96" width="7.92" height="7.92" transform="translate(777.5 490.5) scale(0.652 1) rotate(45)"/>
<rect class="fl" x="-3.96" y="-3.96" width="7.92" height="7.92" transform="translate(777.5 437.5) scale(0.652 1) rotate(45)"/>
<rect class="fl" x="-3.96" y="-3.96" width="7.92" height="7.92" transform="translate(788.5 505.5) scale(0.652 1) rotate(45)"/>
<rect class="fl" x="-3.96" y="-3.96" width="7.92" height="7.92" transform="translate(788.5 489.5) scale(0.652 1) rotate(45)"/>
<rect class="fl" x="-3.96" y="-3.96" width="7.92" height="7.92" transform="translate(788.5 437.5) scale(0.652 1) rotate(45)"/>
<rect class="fl" x="-3.96" y="-3.96" width="7.92" height="7.92" transform="translate(799.5 447.5) scale(0.652 1) rotate(45)"/>
<rect class="fl" x="-3.96" y="-3.96" width="7.92" height="7.92" transform="translate(810.5 494.5) scale(0.652 1) rotate(45)"/>
<rect class="fl" x="-3.96" y="-3.96" width="7.92" height="7.92" transform="translate(810.5 483.5) scale(0.652 1) rotate(45)"/>
<rect class="fl" x="-3.96" y="-3.96" width="7.92" height="7.92" transform="translate(810.5 448.5) scale(0.652 1) rotate(45)"/>
<rect class="fl" x="-3.96" y="-3.96" width="7.92" height="7.92" transform="translate(821.5 499.5) scale(0.652 1) rotate(45)"/>
<rect class="fl" x="-3.96" y="-3.96" width="7.92" height="7.92" transform="translate(821.5 491.5) scale(0.652 1) rotate(45)"/>
<rect class="fl" x="-3.96" y="-3.96" width="7.92" height="7.92" transform="translate(821.5 434.5) scale(0.652 1) rotate(45)"/>
<rect class="fl" x="-3.96" y="-3.96" width="7.92" height="7.92" transform="translate(831.5 483.5) scale(0.652 1) rotate(45)"/>
<rect class="fl" x="-3.96" y="-3.96" width="7.92" height="7.92" transform="translate(831.5 446.5) scale(0.652 1) rotate(45)"/>
<rect class="fl" x="-3.96" y="-3.96" width="7.92" height="7.92" transform="translate(842.5 462.5) scale(0.652 1) rotate(45)"/>
<rect class="fl" x="-3.96" y="-3.96" width="7.92" height="7.92" transform="translate(853.5 466.5) scale(0.652 1) rotate(45)"/>
<rect class="fl" x="-3.96" y="-3.96" width="7.92" height="7.92" transform="translate(864.5 480.5) scale(0.652 1) rotate(45)"/>
<rect class="fl" x="-3.96" y="-3.96" width="7.92" height="7.92" transform="translate(864.5 471.5) scale(0.652 1) rotate(45)"/>
<rect class="fl" x="-3.96" y="-3.96" width="7.92" height="7.92" transform="translate(875.5 476.5) scale(0.652 1) rotate(45)"/>
<rect class="fl" x="-3.96" y="-3.96" width="7.92" height="7.92" transform="translate(885.5 488.5) scale(0.652 1) rotate(45)"/>
<rect class="fl" x="-3.96" y="-3.96" width="7.92" height="7.92" transform="translate(885.5 465.5) scale(0.652 1) rotate(45)"/>
<rect class="fl" x="-3.96" y="-3.96" width="7.92" height="7.92" transform="translate(896.5 483.5) scale(0.652 1) rotate(45)"/>
<rect class="fl" x="-3.96" y="-3.96" width="7.92" height="7.92" transform="translate(907.5 489.5) scale(0.652 1) rotate(45)"/>
<rect class="fl" x="-3.96" y="-3.96" width="7.92" height="7.92" transform="translate(929.5 498.5) scale(0.652 1) rotate(45)"/>
<rect class="fl" x="-3.96" y="-3.96" width="7.92" height="7.92" transform="translate(929.5 485.5) scale(0.652 1) rotate(45)"/>
<rect class="fl" x="-3.96" y="-3.96" width="7.92" height="7.92" transform="translate(929.5 472.5) scale(0.652 1) rotate(45)"/>
<rect class="fl" x="-3.96" y="-3.96" width="7.92" height="7.92" transform="translate(950.5 473.5) scale(0.652 1) rotate(45)"/>
<rect class="fl" x="-3.96" y="-3.96" width="7.92" height="7.92" transform="translate(1004.5 450.5) scale(0.652 1) rotate(45)"/>
<rect class="fl" x="-3.96" y="-3.96" width="7.92" height="7.92" transform="translate(1015.5 429.5) scale(0.652 1) rotate(45)"/>
<rect class="fl" x="-3.96" y="-3.96" width="7.92" height="7.92" transform="translate(1026.5 425.5) scale(0.652 1) rotate(45)"/>
<rect class="fl" x="-3.96" y="-3.96" width="7.92" height="7.92" transform="translate(1037.5 404.5) scale(0.652 1) rotate(45)"/>
<rect class="fl" x="-3.96" y="-3.96" width="7.92" height="7.92" transform="translate(1048.5 389.5) scale(0.652 1) rotate(45)"/>
<rect class="fl" x="-3.96" y="-3.96" width="7.92" height="7.92" transform="translate(1058.5 367.5) scale(0.652 1) rotate(45)"/>
<rect class="fl" x="-3.96" y="-3.96" width="7.92" height="7.92" transform="translate(1069.5 334.5) scale(0.652 1) rotate(45)"/>
<rect class="fl" x="-3.96" y="-3.96" width="7.92" height="7.92" transform="translate(1080.5 334.5) scale(0.652 1) rotate(45)"/>
<rect class="fl" x="-3.96" y="-3.96" width="7.92" height="7.92" transform="translate(1091.5 321.5) scale(0.652 1) rotate(45)"/>
<rect class="fl" x="-3.96" y="-3.96" width="7.92" height="7.92" transform="translate(1102.5 312.5) scale(0.652 1) rotate(45)"/>
<rect class="fl" x="-3.96" y="-3.96" width="7.92" height="7.92" transform="translate(1112.5 284.5) scale(0.652 1) rotate(45)"/>
<rect class="fl" x="-3.96" y="-3.96" width="7.92" height="7.92" transform="translate(1123.5 277.5) scale(0.652 1) rotate(45)"/>
<rect class="fl" x="-3.96" y="-3.96" width="7.92" height="7.92" transform="translate(1134.5 262.5) scale(0.652 1) rotate(45)"/>
<rect class="fl" x="-3.96" y="-3.96" width="7.92" height="7.92" transform="translate(1145.5 266.5) scale(0.652 1) rotate(45)"/>
<rect class="fl" x="-3.96" y="-3.96" width="7.92" height="7.92" transform="translate(1156.5 236.5) scale(0.652 1) rotate(45)"/>
<rect class="fl" x="-3.96" y="-3.96" width="7.92" height="7.92" transform="translate(1166.5 201.5) scale(0.652 1) rotate(45)"/>
<rect class="fl" x="-3.96" y="-3.96" width="7.92" height="7.92" transform="translate(1177.5 209.5) scale(0.652 1) rotate(45)"/>
<rect class="fl" x="-3.96" y="-3.96" width="7.92" height="7.92" transform="translate(1188.5 204.5) scale(0.652 1) rotate(45)"/>
<rect class="fl" x="-3.96" y="-3.96" width="7.92" height="7.92" transform="translate(1199.5 233.5) scale(0.652 1) rotate(45)"/>
<rect class="fl" x="-3.96" y="-3.96" width="7.92" height="7.92" transform="translate(1210.5 194.5) scale(0.652 1) rotate(45)"/>
<rect class="fl" x="-3.96" y="-3.96" width="7.92" height="7.92" transform="translate(1220.5 231.5) scale(0.652 1) rotate(45)"/>
<rect class="fl" x="-3.96" y="-3.96" width="7.92" height="7.92" transform="translate(1231.5 235.5) scale(0.652 1) rotate(45)"/>
<rect class="fl" x="-3.96" y="-3.96" width="7.92" height="7.92" transform="translate(1242.5 251.5) scale(0.652 1) rotate(45)"/>
<rect class="fl" x="-3.96" y="-3.96" width="7.92" height="7.92" transform="translate(1253.5 229.5) scale(0.652 1) rotate(45)"/>
<rect class="fl" x="-3.96" y="-3.96" width="7.92" height="7.92" transform="translate(1264.5 223.5) scale(0.652 1) rotate(45)"/>
<rect class="fl" x="-3.96" y="-3.96" width="7.92" height="7.92" transform="translate(1274.5 195.5) scale(0.652 1) rotate(45)"/>
<rect class="fl" x="-3.96" y="-3.96" width="7.92" height="7.92" transform="translate(1285.5 230.5) scale(0.652 1) rotate(45)"/>
<rect class="fl" x="-3.96" y="-3.96" width="7.92" height="7.92" transform="translate(1296.5 230.5) scale(0.652 1) rotate(45)"/>
<rect class="fl" x="-3.96" y="-3.96" width="7.92" height="7.92" transform="translate(1307.5 235.5) scale(0.652 1) rotate(45)"/>
<rect class="fl" x="-3.96" y="-3.96" width="7.92" height="7.92" transform="translate(1318.5 218.5) scale(0.652 1) rotate(45)"/>
<rect class="fl" x="-3.96" y="-3.96" width="7.92" height="7.92" transform="translate(1328.5 193.5) scale(0.652 1) rotate(45)"/>
<rect class="fl" x="-3.96" y="-3.96" width="7.92" height="7.92" transform="translate(1339.5 259.5) scale(0.652 1) rotate(45)"/>
<rect class="fl" x="-3.96" y="-3.96" width="7.92" height="7.92" transform="translate(1350.5 247.5) scale(0.652 1) rotate(45)"/>
<rect class="fl" x="-3.96" y="-3.96" width="7.92" height="7.92" transform="translate(1350.5 435.5) scale(0.652 1) rotate(45)"/>
<rect class="fl" x="-3.96" y="-3.96" width="7.92" height="7.92" transform="translate(1361.5 237.5) scale(0.652 1) rotate(45)"/>
<rect class="fl" x="-3.96" y="-3.96" width="7.92" height="7.92" transform="translate(1361.5 440.5) scale(0.652 1) rotate(45)"/>
<rect class="fl" x="-3.96" y="-3.96" width="7.92" height="7.92" transform="translate(1372.5 438.5) scale(0.652 1) rotate(45)"/>
<rect class="fl" x="-3.96" y="-3.96" width="7.92" height="7.92" transform="translate(1372.5 187.5) scale(0.652 1) rotate(45)"/>
<rect class="fl" x="-3.96" y="-3.96" width="7.92" height="7.92" transform="translate(1382.5 444.5) scale(0.652 1) rotate(45)"/>
<rect class="fl" x="-3.96" y="-3.96" width="7.92" height="7.92" transform="translate(1382.5 198.5) scale(0.652 1) rotate(45)"/>
<rect class="fl" x="-3.96" y="-3.96" width="7.92" height="7.92" transform="translate(1393.5 264.5) scale(0.652 1) rotate(45)"/>
<rect class="fl" x="-3.96" y="-3.96" width="7.92" height="7.92" transform="translate(1393.5 457.5) scale(0.652 1) rotate(45)"/>
<rect class="fl" x="-3.96" y="-3.96" width="7.92" height="7.92" transform="translate(1404.5 223.5) scale(0.652 1) rotate(45)"/>
<rect class="fl" x="-3.96" y="-3.96" width="7.92" height="7.92" transform="translate(1404.5 446.5) scale(0.652 1) rotate(45)"/>
<rect class="fl" x="-3.96" y="-3.96" width="7.92" height="7.92" transform="translate(1415.5 210.5) scale(0.652 1) rotate(45)"/>
<rect class="fl" x="-3.96" y="-3.96" width="7.92" height="7.92" transform="translate(1426.5 429.5) scale(0.652 1) rotate(45)"/>
<rect class="fl" x="-3.96" y="-3.96" width="7.92" height="7.92" transform="translate(1426.5 213.5) scale(0.652 1) rotate(45)"/>
<rect class="fl" x="-3.96" y="-3.96" width="7.92" height="7.92" transform="translate(1436.5 227.5) scale(0.652 1) rotate(45)"/>
<rect class="fl" x="-3.96" y="-3.96" width="7.92" height="7.92" transform="translate(1447.5 241.5) scale(0.652 1) rotate(45)"/>
<rect class="fl" x="-3.96" y="-3.96" width="7.92" height="7.92" transform="translate(1447.5 422.5) scale(0.652 1) rotate(45)"/>
<rect class="fl" x="-3.96" y="-3.96" width="7.92" height="7.92" transform="translate(1447.5 433.5) scale(0.652 1) rotate(45)"/>
<rect class="fl" x="-3.96" y="-3.96" width="7.92" height="7.92" transform="translate(1458.5 421.5) scale(0.652 1) rotate(45)"/>
<rect class="fl" x="-3.96" y="-3.96" width="7.92" height="7.92" transform="translate(1458.5 227.5) scale(0.652 1) rotate(45)"/>
<rect class="fl" x="-3.96" y="-3.96" width="7.92" height="7.92" transform="translate(1469.5 269.5) scale(0.652 1) rotate(45)"/>
<rect class="fl" x="-3.96" y="-3.96" width="7.92" height="7.92" transform="translate(1469.5 407.5) scale(0.652 1) rotate(45)"/>
<rect class="fl" x="-3.96" y="-3.96" width="7.92" height="7.92" transform="translate(1469.5 419.5) scale(0.652 1) rotate(45)"/>
<rect class="fl" x="-3.96" y="-3.96" width="7.92" height="7.92" transform="translate(1480.5 418.5) scale(0.652 1) rotate(45)"/>
<rect class="fl" x="-3.96" y="-3.96" width="7.92" height="7.92" transform="translate(1480.5 426.5) scale(0.652 1) rotate(45)"/>
<rect class="fl" x="-3.96" y="-3.96" width="7.92" height="7.92" transform="translate(1480.5 184.5) scale(0.652 1) rotate(45)"/>
<rect class="fl" x="-3.96" y="-3.96" width="7.92" height="7.92" transform="translate(1490.5 414.5) scale(0.652 1) rotate(45)"/>
<rect class="fl" x="-3.96" y="-3.96" width="7.92" height="7.92" transform="translate(1490.5 207.5) scale(0.652 1) rotate(45)"/>
<rect class="fl" x="-3.96" y="-3.96" width="7.92" height="7.92" transform="translate(1501.5 386.5) scale(0.652 1) rotate(45)"/>
<rect class="fl" x="-3.96" y="-3.96" width="7.92" height="7.92" transform="translate(1501.5 237.5) scale(0.652 1) rotate(45)"/>
<rect class="fl" x="-3.96" y="-3.96" width="7.92" height="7.92" transform="translate(1501.5 439.5) scale(0.652 1) rotate(45)"/>
<rect class="fl" x="-3.96" y="-3.96" width="7.92" height="7.92" transform="translate(1512.5 386.5) scale(0.652 1) rotate(45)"/>
<rect class="fl" x="-3.96" y="-3.96" width="7.92" height="7.92" transform="translate(1512.5 246.5) scale(0.652 1) rotate(45)"/>
<rect class="fl" x="-3.96" y="-3.96" width="7.92" height="7.92" transform="translate(1512.5 431.5) scale(0.652 1) rotate(45)"/>
<rect class="fl" x="-3.96" y="-3.96" width="7.92" height="7.92" transform="translate(1523.5 257.5) scale(0.652 1) rotate(45)"/>
<rect class="fl" x="-3.96" y="-3.96" width="7.92" height="7.92" transform="translate(1523.5 417.5) scale(0.652 1) rotate(45)"/>
<rect class="fl" x="-3.96" y="-3.96" width="7.92" height="7.92" transform="translate(1534.5 235.5) scale(0.652 1) rotate(45)"/>
<rect class="fl" x="-3.96" y="-3.96" width="7.92" height="7.92" transform="translate(1544.5 208.5) scale(0.652 1) rotate(45)"/>
<rect class="fl" x="-3.96" y="-3.96" width="7.92" height="7.92" transform="translate(1555.5 208.5) scale(0.652 1) rotate(45)"/>
<rect class="fl" x="-3.96" y="-3.96" width="7.92" height="7.92" transform="translate(1566.5 220.5) scale(0.652 1) rotate(45)"/>
<rect class="fl" x="-3.96" y="-3.96" width="7.92" height="7.92" transform="translate(1577.5 254.5) scale(0.652 1) rotate(45)"/>
<rect class="fl" x="-3.96" y="-3.96" width="7.92" height="7.92" transform="translate(1588.5 250.5) scale(0.652 1) rotate(45)"/>
<rect class="fl" x="-3.96" y="-3.96" width="7.92" height="7.92" transform="translate(1598.5 305.5) scale(0.652 1) rotate(45)"/>
<rect class="fl" x="-3.96" y="-3.96" width="7.92" height="7.92" transform="translate(1609.5 279.5) scale(0.652 1) rotate(45)"/>
<rect class="fl" x="-3.96" y="-3.96" width="7.92" height="7.92" transform="translate(1620.5 296.5) scale(0.652 1) rotate(45)"/>
<rect class="fl" x="-3.96" y="-3.96" width="7.92" height="7.92" transform="translate(1631.5 272.5) scale(0.652 1) rotate(45)"/>
<rect class="fl" x="-3.96" y="-3.96" width="7.92" height="7.92" transform="translate(1642.5 283.5) scale(0.652 1) rotate(45)"/>
<rect class="fl" x="-3.96" y="-3.96" width="7.92" height="7.92" transform="translate(1652.5 302.5) scale(0.652 1) rotate(45)"/>
<rect class="fl" x="-3.96" y="-3.96" width="7.92" height="7.92" transform="translate(1663.5 302.5) scale(0.652 1) rotate(45)"/>
<rect class="fl" x="-3.96" y="-3.96" width="7.92" height="7.92" transform="translate(1674.5 286.5) scale(0.652 1) rotate(45)"/>
<rect class="fl" x="-3.96" y="-3.96" width="7.92" height="7.92" transform="translate(1685.5 268.5) scale(0.652 1) rotate(45)"/>
<rect class="fl" x="-3.96" y="-3.96" width="7.92" height="7.92" transform="translate(1696.5 287.5) scale(0.652 1) rotate(45)"/>
<rect class="fl" x="-3.96" y="-3.96" width="7.92" height="7.92" transform="translate(1706.5 273.5) scale(0.652 1) rotate(45)"/>
<rect class="fl" x="-3.96" y="-3.96" width="7.92" height="7.92" transform="translate(1717.5 235.5) scale(0.652 1) rotate(45)"/>
<rect class="fl" x="-3.96" y="-3.96" width="7.92" height="7.92" transform="translate(1728.5 211.5) scale(0.652 1) rotate(45)"/>
<rect class="fl" x="-3.96" y="-3.96" width="7.92" height="7.92" transform="translate(1739.5 369.5) scale(0.652 1) rotate(45)"/>
<rect class="fl" x="-3.96" y="-3.96" width="7.92" height="7.92" transform="translate(1739.5 226.5) scale(0.652 1) rotate(45)"/>
<rect class="fl" x="-3.96" y="-3.96" width="7.92" height="7.92" transform="translate(1750.5 347.5) scale(0.652 1) rotate(45)"/>
<rect class="fl" x="-3.96" y="-3.96" width="7.92" height="7.92" transform="translate(1750.5 206.5) scale(0.652 1) rotate(45)"/>
<rect class="fl" x="-3.96" y="-3.96" width="7.92" height="7.92" transform="translate(1760.5 335.5) scale(0.652 1) rotate(45)"/>
<rect class="fl" x="-3.96" y="-3.96" width="7.92" height="7.92" transform="translate(1760.5 192.5) scale(0.652 1) rotate(45)"/>
<rect class="fl" x="-3.96" y="-3.96" width="7.92" height="7.92" transform="translate(1771.5 140.5) scale(0.652 1) rotate(45)"/>
<rect class="fl" x="-3.96" y="-3.96" width="7.92" height="7.92" transform="translate(1771.5 313.5) scale(0.652 1) rotate(45)"/>
<rect class="fl" x="-3.96" y="-3.96" width="7.92" height="7.92" transform="translate(1782.5 275.5) scale(0.652 1) rotate(45)"/>
<rect class="fl" x="-3.96" y="-3.96" width="7.92" height="7.92" transform="translate(1782.5 168.5) scale(0.652 1) rotate(45)"/>
<rect class="fl" x="-3.96" y="-3.96" width="7.92" height="7.92" transform="translate(1793.5 138.5) scale(0.652 1) rotate(45)"/>
<rect class="fl" x="-3.96" y="-3.96" width="7.92" height="7.92" transform="translate(1793.5 282.5) scale(0.652 1) rotate(45)"/>
<rect class="fl" x="-3.96" y="-3.96" width="7.92" height="7.92" transform="translate(1804.5 283.5) scale(0.652 1) rotate(45)"/>
<rect class="fl" x="-3.96" y="-3.96" width="7.92" height="7.92" transform="translate(1804.5 209.5) scale(0.652 1) rotate(45)"/>
<rect class="fl" x="-3.96" y="-3.96" width="7.92" height="7.92" transform="translate(1814.5 263.5) scale(0.652 1) rotate(45)"/>
<rect class="fl" x="-3.96" y="-3.96" width="7.92" height="7.92" transform="translate(1814.5 165.5) scale(0.652 1) rotate(45)"/>
<rect class="fl" x="-3.96" y="-3.96" width="7.92" height="7.92" transform="translate(1825.5 287.5) scale(0.652 1) rotate(45)"/>
<rect class="fl" x="-3.96" y="-3.96" width="7.92" height="7.92" transform="translate(1825.5 164.5) scale(0.652 1) rotate(45)"/>
<rect class="fl" x="-3.96" y="-3.96" width="7.92" height="7.92" transform="translate(1836.5 243.5) scale(0.652 1) rotate(45)"/>
<rect class="fl" x="-3.96" y="-3.96" width="7.92" height="7.92" transform="translate(1836.5 189.5) scale(0.652 1) rotate(45)"/>
<rect class="fl" x="-3.96" y="-3.96" width="7.92" height="7.92" transform="translate(1847.5 147.5) scale(0.652 1) rotate(45)"/>
<rect class="fl" x="-3.96" y="-3.96" width="7.92" height="7.92" transform="translate(1847.5 214.5) scale(0.652 1) rotate(45)"/>
<rect class="fl" x="-3.96" y="-3.96" width="7.92" height="7.92" transform="translate(1858.5 155.5) scale(0.652 1) rotate(45)"/>
<rect class="fl" x="-3.96" y="-3.96" width="7.92" height="7.92" transform="translate(1858.5 214.5) scale(0.652 1) rotate(45)"/>
<rect class="fl" x="-3.96" y="-3.96" width="7.92" height="7.92" transform="translate(1868.5 162.5) scale(0.652 1) rotate(45)"/>
<rect class="fl" x="-3.96" y="-3.96" width="7.92" height="7.92" transform="translate(1868.5 225.5) scale(0.652 1) rotate(45)"/>
<rect class="fl" x="-3.96" y="-3.96" width="7.92" height="7.92" transform="translate(1879.5 144.5) scale(0.652 1) rotate(45)"/>
<rect class="fl" x="-3.96" y="-3.96" width="7.92" height="7.92" transform="translate(1879.5 207.5) scale(0.652 1) rotate(45)"/>
<rect class="fl" x="-3.96" y="-3.96" width="7.92" height="7.92" transform="translate(1890.5 170.5) scale(0.652 1) rotate(45)"/>
<rect class="fl" x="-3.96" y="-3.96" width="7.92" height="7.92" transform="translate(1890.5 204.5) scale(0.652 1) rotate(45)"/>
<rect class="fl" x="-3.96" y="-3.96" width="7.92" height="7.92" transform="translate(1901.5 118.5) scale(0.652 1) rotate(45)"/>
<rect class="fl" x="-3.96" y="-3.96" width="7.92" height="7.92" transform="translate(1901.5 221.5) scale(0.652 1) rotate(45)"/>
<rect class="fl" x="-3.96" y="-3.96" width="7.92" height="7.92" transform="translate(1912.5 177.5) scale(0.652 1) rotate(45)"/>
<rect class="fl" x="-3.96" y="-3.96" width="7.92" height="7.92" transform="translate(1912.5 204.5) scale(0.652 1) rotate(45)"/>
<rect class="fl" x="-3.96" y="-3.96" width="7.92" height="7.92" transform="translate(1922.5 158.5) scale(0.652 1) rotate(45)"/>
<rect class="fl" x="-3.96" y="-3.96" width="7.92" height="7.92" transform="translate(1922.5 201.5) scale(0.652 1) rotate(45)"/>
<rect class="fl" x="-3.96" y="-3.96" width="7.92" height="7.92" transform="translate(1933.5 155.5) scale(0.652 1) rotate(45)"/>
<rect class="fl" x="-3.96" y="-3.96" width="7.92" height="7.92" transform="translate(1933.5 221.5) scale(0.652 1) rotate(45)"/>
<rect class="fl" x="-3.96" y="-3.96" width="7.92" height="7.92" transform="translate(1944.5 178.5) scale(0.652 1) rotate(45)"/>
<rect class="fl" x="-3.96" y="-3.96" width="7.92" height="7.92" transform="translate(1944.5 208.5) scale(0.652 1) rotate(45)"/>
<rect class="fl" x="-3.96" y="-3.96" width="7.92" height="7.92" transform="translate(1955.5 161.5) scale(0.652 1) rotate(45)"/>
<rect class="fl" x="-3.96" y="-3.96" width="7.92" height="7.92" transform="translate(1955.5 218.5) scale(0.652 1) rotate(45)"/>
<rect class="fl" x="-3.96" y="-3.96" width="7.92" height="7.92" transform="translate(1966.5 183.5) scale(0.652 1) rotate(45)"/>
<rect class="fl" x="-3.96" y="-3.96" width="7.92" height="7.92" transform="translate(1966.5 197.5) scale(0.652 1) rotate(45)"/>
<rect class="fl" x="-3.96" y="-3.96" width="7.92" height="7.92" transform="translate(1976.5 158.5) scale(0.652 1) rotate(45)"/>
<rect class="fl" x="-3.96" y="-3.96" width="7.92" height="7.92" transform="translate(1976.5 187.5) scale(0.652 1) rotate(45)"/>
<rect class="fl" x="-3.96" y="-3.96" width="7.92" height="7.92" transform="translate(1987.5 146.5) scale(0.652 1) rotate(45)"/>
<rect class="fl" x="-3.96" y="-3.96" width="7.92" height="7.92" transform="translate(1987.5 225.5) scale(0.652 1) rotate(45)"/>
<rect class="fl" x="-3.96" y="-3.96" width="7.92" height="7.92" transform="translate(1998.5 141.5) scale(0.652 1) rotate(45)"/>
<rect class="fl" x="-3.96" y="-3.96" width="7.92" height="7.92" transform="translate(1998.5 228.5) scale(0.652 1) rotate(45)"/>
<rect class="fl" x="-3.96" y="-3.96" width="7.92" height="7.92" transform="translate(2009.5 173.5) scale(0.652 1) rotate(45)"/>
<rect class="fl" x="-3.96" y="-3.96" width="7.92" height="7.92" transform="translate(2009.5 186.5) scale(0.652 1) rotate(45)"/>
<rect class="fl" x="-3.96" y="-3.96" width="7.92" height="7.92" transform="translate(2020.5 164.5) scale(0.652 1) rotate(45)"/>
<rect class="fl" x="-3.96" y="-3.96" width="7.92" height="7.92" transform="translate(2020.5 206.5) scale(0.652 1) rotate(45)"/>
<rect class="fl" x="-3.96" y="-3.96" width="7.92" height="7.92" transform="translate(2030.5 143.5) scale(0.652 1) rotate(45)"/>
<rect class="fl" x="-3.96" y="-3.96" width="7.92" height="7.92" transform="translate(2030.5 215.5) scale(0.652 1) rotate(45)"/>
<rect class="fl" x="-3.96" y="-3.96" width="7.92" height="7.92" transform="translate(2041.5 154.5) scale(0.652 1) rotate(45)"/>
<rect class="fl" x="-3.96" y="-3.96" width="7.92" height="7.92" transform="translate(2041.5 105.5) scale(0.652 1) rotate(45)"/>
<rect class="fl" x="-3.96" y="-3.96" width="7.92" height="7.92" transform="translate(2052.5 144.5) scale(0.652 1) rotate(45)"/>
<rect class="fl" x="-3.96" y="-3.96" width="7.92" height="7.92" transform="translate(2052.5 191.5) scale(0.652 1) rotate(45)"/>
<rect class="fl" x="-3.96" y="-3.96" width="7.92" height="7.92" transform="translate(2063.5 132.5) scale(0.652 1) rotate(45)"/>
<rect class="fl" x="-3.96" y="-3.96" width="7.92" height="7.92" transform="translate(2063.5 228.5) scale(0.652 1) rotate(45)"/>
<rect class="fl" x="-3.96" y="-3.96" width="7.92" height="7.92" transform="translate(2074.5 120.5) scale(0.652 1) rotate(45)"/>
<rect class="fl" x="-3.96" y="-3.96" width="7.92" height="7.92" transform="translate(2074.5 197.5) scale(0.652 1) rotate(45)"/>
<rect class="fl" x="-3.96" y="-3.96" width="7.92" height="7.92" transform="translate(2084.5 104.5) scale(0.652 1) rotate(45)"/>
<rect class="fl" x="-3.96" y="-3.96" width="7.92" height="7.92" transform="translate(2084.5 168.5) scale(0.652 1) rotate(45)"/>
<rect class="fl" x="-3.96" y="-3.96" width="7.92" height="7.92" transform="translate(2095.5 143.5) scale(0.652 1) rotate(45)"/>
<rect class="fl" x="-3.96" y="-3.96" width="7.92" height="7.92" transform="translate(2095.5 160.5) scale(0.652 1) rotate(45)"/>
<rect class="fl" x="-3.96" y="-3.96" width="7.92" height="7.92" transform="translate(2095.5 306.5) scale(0.652 1) rotate(45)"/>
<rect class="fl" x="-3.96" y="-3.96" width="7.92" height="7.92" transform="translate(2106.5 128.5) scale(0.652 1) rotate(45)"/>
<rect class="fl" x="-3.96" y="-3.96" width="7.92" height="7.92" transform="translate(2106.5 271.5) scale(0.652 1) rotate(45)"/>
<rect class="fl" x="-3.96" y="-3.96" width="7.92" height="7.92" transform="translate(2106.5 188.5) scale(0.652 1) rotate(45)"/>
<rect class="fl" x="-3.96" y="-3.96" width="7.92" height="7.92" transform="translate(2117.5 78.5) scale(0.652 1) rotate(45)"/>
<rect class="fl" x="-3.96" y="-3.96" width="7.92" height="7.92" transform="translate(2117.5 315.5) scale(0.652 1) rotate(45)"/>
<rect class="fl" x="-3.96" y="-3.96" width="7.92" height="7.92" transform="translate(2117.5 201.5) scale(0.652 1) rotate(45)"/>
<rect class="fl" x="-3.96" y="-3.96" width="7.92" height="7.92" transform="translate(2128.5 259.5) scale(0.652 1) rotate(45)"/>
<rect class="fl" x="-3.96" y="-3.96" width="7.92" height="7.92" transform="translate(2128.5 128.5) scale(0.652 1) rotate(45)"/>
<rect class="fl" x="-3.96" y="-3.96" width="7.92" height="7.92" transform="translate(2128.5 176.5) scale(0.652 1) rotate(45)"/>
<rect class="fl" x="-3.96" y="-3.96" width="7.92" height="7.92" transform="translate(2138.5 254.5) scale(0.652 1) rotate(45)"/>
<rect class="fl" x="-3.96" y="-3.96" width="7.92" height="7.92" transform="translate(2138.5 146.5) scale(0.652 1) rotate(45)"/>
<rect class="fl" x="-3.96" y="-3.96" width="7.92" height="7.92" transform="translate(2138.5 205.5) scale(0.652 1) rotate(45)"/>
<rect class="fl" x="-3.96" y="-3.96" width="7.92" height="7.92" transform="translate(2149.5 266.5) scale(0.652 1) rotate(45)"/>
<rect class="fl" x="-3.96" y="-3.96" width="7.92" height="7.92" transform="translate(2149.5 152.5) scale(0.652 1) rotate(45)"/>
<rect class="fl" x="-3.96" y="-3.96" width="7.92" height="7.92" transform="translate(2149.5 202.5) scale(0.652 1) rotate(45)"/>
<rect class="fl" x="-3.96" y="-3.96" width="7.92" height="7.92" transform="translate(2160.5 255.5) scale(0.652 1) rotate(45)"/>
<rect class="fl" x="-3.96" y="-3.96" width="7.92" height="7.92" transform="translate(2160.5 96.5) scale(0.652 1) rotate(45)"/>
<rect class="fl" x="-3.96" y="-3.96" width="7.92" height="7.92" transform="translate(2160.5 166.5) scale(0.652 1) rotate(45)"/>
<rect class="fl" x="-3.96" y="-3.96" width="7.92" height="7.92" transform="translate(2171.5 142.5) scale(0.652 1) rotate(45)"/>
<rect class="fl" x="-3.96" y="-3.96" width="7.92" height="7.92" transform="translate(2171.5 160.5) scale(0.652 1) rotate(45)"/>
<rect class="fl" x="-3.96" y="-3.96" width="7.92" height="7.92" transform="translate(2171.5 209.5) scale(0.652 1) rotate(45)"/>
<rect class="fl" x="-3.96" y="-3.96" width="7.92" height="7.92" transform="translate(2182.5 273.5) scale(0.652 1) rotate(45)"/>
<rect class="fl" x="-3.96" y="-3.96" width="7.92" height="7.92" transform="translate(2182.5 158.5) scale(0.652 1) rotate(45)"/>
<rect class="fl" x="-3.96" y="-3.96" width="7.92" height="7.92" transform="translate(2182.5 214.5) scale(0.652 1) rotate(45)"/>
<rect class="fl" x="-3.96" y="-3.96" width="7.92" height="7.92" transform="translate(2192.5 280.5) scale(0.652 1) rotate(45)"/>
<rect class="fl" x="-3.96" y="-3.96" width="7.92" height="7.92" transform="translate(2192.5 236.5) scale(0.652 1) rotate(45)"/>
<rect class="fl" x="-3.96" y="-3.96" width="7.92" height="7.92" transform="translate(2192.5 183.5) scale(0.652 1) rotate(45)"/>
<rect class="fl" x="-3.96" y="-3.96" width="7.92" height="7.92" transform="translate(2203.5 285.5) scale(0.652 1) rotate(45)"/>
<rect class="fl" x="-3.96" y="-3.96" width="7.92" height="7.92" transform="translate(2203.5 175.5) scale(0.652 1) rotate(45)"/>
<rect class="fl" x="-3.96" y="-3.96" width="7.92" height="7.92" transform="translate(2203.5 215.5) scale(0.652 1) rotate(45)"/>
<rect class="fl" x="-3.96" y="-3.96" width="7.92" height="7.92" transform="translate(2203.5 205.5) scale(0.652 1) rotate(45)"/>
<rect class="fl" x="-3.96" y="-3.96" width="7.92" height="7.92" transform="translate(2214.5 250.5) scale(0.652 1) rotate(45)"/>
<rect class="fl" x="-3.96" y="-3.96" width="7.92" height="7.92" transform="translate(2214.5 246.5) scale(0.652 1) rotate(45)"/>
<rect class="fl" x="-3.96" y="-3.96" width="7.92" height="7.92" transform="translate(2214.5 220.5) scale(0.652 1) rotate(45)"/>
<rect class="fl" x="-3.96" y="-3.96" width="7.92" height="7.92" transform="translate(2214.5 172.5) scale(0.652 1) rotate(45)"/>
<rect class="fl" x="-3.96" y="-3.96" width="7.92" height="7.92" transform="translate(2225.5 255.5) scale(0.652 1) rotate(45)"/>
<rect class="fl" x="-3.96" y="-3.96" width="7.92" height="7.92" transform="translate(2225.5 251.5) scale(0.652 1) rotate(45)"/>
<rect class="fl" x="-3.96" y="-3.96" width="7.92" height="7.92" transform="translate(2225.5 275.5) scale(0.652 1) rotate(45)"/>
<rect class="fl" x="-3.96" y="-3.96" width="7.92" height="7.92" transform="translate(2225.5 154.5) scale(0.652 1) rotate(45)"/>
<rect class="fl" x="-3.96" y="-3.96" width="7.92" height="7.92" transform="translate(2236.5 260.5) scale(0.652 1) rotate(45)"/>
<rect class="fl" x="-3.96" y="-3.96" width="7.92" height="7.92" transform="translate(2236.5 276.5) scale(0.652 1) rotate(45)"/>
<rect class="fl" x="-3.96" y="-3.96" width="7.92" height="7.92" transform="translate(2236.5 242.5) scale(0.652 1) rotate(45)"/>
<rect class="fl" x="-3.96" y="-3.96" width="7.92" height="7.92" transform="translate(2236.5 193.5) scale(0.652 1) rotate(45)"/>
<rect class="fl" x="-3.96" y="-3.96" width="7.92" height="7.92" transform="translate(2246.5 255.5) scale(0.652 1) rotate(45)"/>
<rect class="fl" x="-3.96" y="-3.96" width="7.92" height="7.92" transform="translate(2246.5 242.5) scale(0.652 1) rotate(45)"/>
<rect class="fl" x="-3.96" y="-3.96" width="7.92" height="7.92" transform="translate(2246.5 216.5) scale(0.652 1) rotate(45)"/>
<rect class="fl" x="-3.96" y="-3.96" width="7.92" height="7.92" transform="translate(2246.5 179.5) scale(0.652 1) rotate(45)"/>
<rect class="fl" x="-3.96" y="-3.96" width="7.92" height="7.92" transform="translate(2257.5 253.5) scale(0.652 1) rotate(45)"/>
<rect class="fl" x="-3.96" y="-3.96" width="7.92" height="7.92" transform="translate(2257.5 248.5) scale(0.652 1) rotate(45)"/>
<rect class="fl" x="-3.96" y="-3.96" width="7.92" height="7.92" transform="translate(2257.5 157.5) scale(0.652 1) rotate(45)"/>
<rect class="fl" x="-3.96" y="-3.96" width="7.92" height="7.92" transform="translate(2268.5 271.5) scale(0.652 1) rotate(45)"/>
<rect class="fl" x="-3.96" y="-3.96" width="7.92" height="7.92" transform="translate(2268.5 234.5) scale(0.652 1) rotate(45)"/>
<rect class="fl" x="-3.96" y="-3.96" width="7.92" height="7.92" transform="translate(2268.5 187.5) scale(0.652 1) rotate(45)"/>
<rect class="fl" x="-3.96" y="-3.96" width="7.92" height="7.92" transform="translate(2279.5 268.5) scale(0.652 1) rotate(45)"/>
<rect class="fl" x="-3.96" y="-3.96" width="7.92" height="7.92" transform="translate(2279.5 250.5) scale(0.652 1) rotate(45)"/>
<rect class="fl" x="-3.96" y="-3.96" width="7.92" height="7.92" transform="translate(2279.5 194.5) scale(0.652 1) rotate(45)"/>
<rect class="fl" x="-3.96" y="-3.96" width="7.92" height="7.92" transform="translate(2290.5 262.5) scale(0.652 1) rotate(45)"/>
<rect class="fl" x="-3.96" y="-3.96" width="7.92" height="7.92" transform="translate(2290.5 233.5) scale(0.652 1) rotate(45)"/>
<rect class="fl" x="-3.96" y="-3.96" width="7.92" height="7.92" transform="translate(2290.5 202.5) scale(0.652 1) rotate(45)"/>
<rect class="fl" x="-3.96" y="-3.96" width="7.92" height="7.92" transform="translate(2300.5 266.5) scale(0.652 1) rotate(45)"/>
<rect class="fl" x="-3.96" y="-3.96" width="7.92" height="7.92" transform="translate(2300.5 254.5) scale(0.652 1) rotate(45)"/>
<rect class="fl" x="-3.96" y="-3.96" width="7.92" height="7.92" transform="translate(2300.5 232.5) scale(0.652 1) rotate(45)"/>
<rect class="fl" x="-3.96" y="-3.96" width="7.92" height="7.92" transform="translate(2311.5 222.5) scale(0.652 1) rotate(45)"/>
<rect class="fl" x="-3.96" y="-3.96" width="7.92" height="7.92" transform="translate(2322.5 264.5) scale(0.652 1) rotate(45)"/>
<rect class="fl" x="-3.96" y="-3.96" width="7.92" height="7.92" transform="translate(2322.5 196.5) scale(0.652 1) rotate(45)"/>
<rect class="fl" x="-3.96" y="-3.96" width="7.92" height="7.92" transform="translate(2333.5 180.5) scale(0.652 1) rotate(45)"/>
<rect class="fl" x="-3.96" y="-3.96" width="7.92" height="7.92" transform="translate(2354.5 228.5) scale(0.652 1) rotate(45)"/>
<rect class="fl" x="-3.96" y="-3.96" width="7.92" height="7.92" transform="translate(2365.5 230.5) scale(0.652 1) rotate(45)"/>
<rect class="fl" x="-3.96" y="-3.96" width="7.92" height="7.92" transform="translate(2376.5 243.5) scale(0.652 1) rotate(45)"/>
<rect class="fl" x="-3.96" y="-3.96" width="7.92" height="7.92" transform="translate(2387.5 247.5) scale(0.652 1) rotate(45)"/>
<rect class="fl" x="-3.96" y="-3.96" width="7.92" height="7.92" transform="translate(2408.5 226.5) scale(0.652 1) rotate(45)"/>
<rect class="fl" x="-3.96" y="-3.96" width="7.92" height="7.92" transform="translate(2419.5 253.5) scale(0.652 1) rotate(45)"/>
<rect class="fl" x="-3.96" y="-3.96" width="7.92" height="7.92" transform="translate(2430.5 292.5) scale(0.652 1) rotate(45)"/>
<rect class="fl" x="-3.96" y="-3.96" width="7.92" height="7.92" transform="translate(2452.5 290.5) scale(0.652 1) rotate(45)"/>
<rect class="fl" x="-3.96" y="-3.96" width="7.92" height="7.92" transform="translate(2462.5 322.5) scale(0.652 1) rotate(45)"/>
<rect class="fl" x="-3.96" y="-3.96" width="7.92" height="7.92" transform="translate(2506.5 323.5) scale(0.652 1) rotate(45)"/>
<rect class="fl" x="-3.96" y="-3.96" width="7.92" height="7.92" transform="translate(2517.5 308.5) scale(0.652 1) rotate(45)"/>
<rect class="fl" x="-3.96" y="-3.96" width="7.92" height="7.92" transform="translate(2527.5 322.5) scale(0.652 1) rotate(45)"/>
<rect class="fl" x="-3.96" y="-3.96" width="7.92" height="7.92" transform="translate(2538.5 317.5) scale(0.652 1) rotate(45)"/>
<rect class="fl" x="-3.96" y="-3.96" width="7.92" height="7.92" transform="translate(2560.5 334.5) scale(0.652 1) rotate(45)"/>
<rect class="fl" x="-3.96" y="-3.96" width="7.92" height="7.92" transform="translate(2571.5 299.5) scale(0.652 1) rotate(45)"/>
<rect class="fl" x="-3.96" y="-3.96" width="7.92" height="7.92" transform="translate(2581.5 424.5) scale(0.652 1) rotate(45)"/>
<rect class="fl" x="-3.96" y="-3.96" width="7.92" height="7.92" transform="translate(2581.5 310.5) scale(0.652 1) rotate(45)"/>
<rect class="fl" x="-3.96" y="-3.96" width="7.92" height="7.92" transform="translate(2592.5 430.5) scale(0.652 1) rotate(45)"/>
<rect class="fl" x="-3.96" y="-3.96" width="7.92" height="7.92" transform="translate(2592.5 323.5) scale(0.652 1) rotate(45)"/>
<rect class="fl" x="-3.96" y="-3.96" width="7.92" height="7.92" transform="translate(2603.5 437.5) scale(0.652 1) rotate(45)"/>
<rect class="fl" x="-3.96" y="-3.96" width="7.92" height="7.92" transform="translate(2603.5 339.5) scale(0.652 1) rotate(45)"/>
<rect class="fl" x="-3.96" y="-3.96" width="7.92" height="7.92" transform="translate(2614.5 414.5) scale(0.652 1) rotate(45)"/>
<rect class="fl" x="-3.96" y="-3.96" width="7.92" height="7.92" transform="translate(2614.5 340.5) scale(0.652 1) rotate(45)"/>
<rect class="fl" x="-3.96" y="-3.96" width="7.92" height="7.92" transform="translate(2625.5 369.5) scale(0.652 1) rotate(45)"/>
<rect class="fl" x="-3.96" y="-3.96" width="7.92" height="7.92" transform="translate(2625.5 430.5) scale(0.652 1) rotate(45)"/>
<rect class="fl" x="-3.96" y="-3.96" width="7.92" height="7.92" transform="translate(2635.5 365.5) scale(0.652 1) rotate(45)"/>
<rect class="fl" x="-3.96" y="-3.96" width="7.92" height="7.92" transform="translate(2635.5 431.5) scale(0.652 1) rotate(45)"/>
<rect class="fl" x="-3.96" y="-3.96" width="7.92" height="7.92" transform="translate(2646.5 388.5) scale(0.652 1) rotate(45)"/>
<rect class="fl" x="-3.96" y="-3.96" width="7.92" height="7.92" transform="translate(2657.5 426.5) scale(0.652 1) rotate(45)"/>
<rect class="fl" x="-3.96" y="-3.96" width="7.92" height="7.92" transform="translate(2657.5 445.5) scale(0.652 1) rotate(45)"/>
<rect class="fl" x="-3.96" y="-3.96" width="7.92" height="7.92" transform="translate(2657.5 457.5) scale(0.652 1) rotate(45)"/>
<rect class="fl" x="-3.96" y="-3.96" width="7.92" height="7.92" transform="translate(2668.5 422.5) scale(0.652 1) rotate(45)"/>
<rect class="fl" x="-3.96" y="-3.96" width="7.92" height="7.92" transform="translate(2668.5 426.5) scale(0.652 1) rotate(45)"/>
<rect class="fl" x="-3.96" y="-3.96" width="7.92" height="7.92" transform="translate(2668.5 445.5) scale(0.652 1) rotate(45)"/>
<rect class="fl" x="-3.96" y="-3.96" width="7.92" height="7.92" transform="translate(2679.5 413.5) scale(0.652 1) rotate(45)"/>
<rect class="fl" x="-3.96" y="-3.96" width="7.92" height="7.92" transform="translate(2679.5 423.5) scale(0.652 1) rotate(45)"/>
<rect class="fl" x="-3.96" y="-3.96" width="7.92" height="7.92" transform="translate(2679.5 445.5) scale(0.652 1) rotate(45)"/>
<rect class="fl" x="-3.96" y="-3.96" width="7.92" height="7.92" transform="translate(2689.5 392.5) scale(0.652 1) rotate(45)"/>
<rect class="fl" x="-3.96" y="-3.96" width="7.92" height="7.92" transform="translate(2689.5 405.5) scale(0.652 1) rotate(45)"/>
<rect class="fl" x="-3.96" y="-3.96" width="7.92" height="7.92" transform="translate(2689.5 447.5) scale(0.652 1) rotate(45)"/>
<rect class="fl" x="-3.96" y="-3.96" width="7.92" height="7.92" transform="translate(2700.5 384.5) scale(0.652 1) rotate(45)"/>
<rect class="fl" x="-3.96" y="-3.96" width="7.92" height="7.92" transform="translate(2700.5 370.5) scale(0.652 1) rotate(45)"/>
<rect class="fl" x="-3.96" y="-3.96" width="7.92" height="7.92" transform="translate(2700.5 491.5) scale(0.652 1) rotate(45)"/>
<rect class="fl" x="-3.96" y="-3.96" width="7.92" height="7.92" transform="translate(2700.5 436.5) scale(0.652 1) rotate(45)"/>
<rect class="fl" x="-3.96" y="-3.96" width="7.92" height="7.92" transform="translate(2711.5 392.5) scale(0.652 1) rotate(45)"/>
<rect class="fl" x="-3.96" y="-3.96" width="7.92" height="7.92" transform="translate(2711.5 402.5) scale(0.652 1) rotate(45)"/>
<rect class="fl" x="-3.96" y="-3.96" width="7.92" height="7.92" transform="translate(2711.5 455.5) scale(0.652 1) rotate(45)"/>
<rect class="fl" x="-3.96" y="-3.96" width="7.92" height="7.92" transform="translate(2722.5 409.5) scale(0.652 1) rotate(45)"/>
<rect class="fl" x="-3.96" y="-3.96" width="7.92" height="7.92" transform="translate(2722.5 415.5) scale(0.652 1) rotate(45)"/>
<rect class="fl" x="-3.96" y="-3.96" width="7.92" height="7.92" transform="translate(2722.5 474.5) scale(0.652 1) rotate(45)"/>
<rect class="fl" x="-3.96" y="-3.96" width="7.92" height="7.92" transform="translate(2733.5 408.5) scale(0.652 1) rotate(45)"/>
<rect class="fl" x="-3.96" y="-3.96" width="7.92" height="7.92" transform="translate(2733.5 424.5) scale(0.652 1) rotate(45)"/>
<rect class="fl" x="-3.96" y="-3.96" width="7.92" height="7.92" transform="translate(2733.5 484.5) scale(0.652 1) rotate(45)"/>
<rect class="fl" x="-3.96" y="-3.96" width="7.92" height="7.92" transform="translate(2743.5 414.5) scale(0.652 1) rotate(45)"/>
<rect class="fl" x="-3.96" y="-3.96" width="7.92" height="7.92" transform="translate(2743.5 484.5) scale(0.652 1) rotate(45)"/>
<rect class="fl" x="-3.96" y="-3.96" width="7.92" height="7.92" transform="translate(2743.5 478.5) scale(0.652 1) rotate(45)"/>
<rect class="fl" x="-3.96" y="-3.96" width="7.92" height="7.92" transform="translate(2743.5 442.5) scale(0.652 1) rotate(45)"/>
<rect class="fl" x="-3.96" y="-3.96" width="7.92" height="7.92" transform="translate(2754.5 415.5) scale(0.652 1) rotate(45)"/>
<rect class="fl" x="-3.96" y="-3.96" width="7.92" height="7.92" transform="translate(2754.5 489.5) scale(0.652 1) rotate(45)"/>
<rect class="fl" x="-3.96" y="-3.96" width="7.92" height="7.92" transform="translate(2754.5 477.5) scale(0.652 1) rotate(45)"/>
<rect class="fl" x="-3.96" y="-3.96" width="7.92" height="7.92" transform="translate(2754.5 463.5) scale(0.652 1) rotate(45)"/>
<rect class="fl" x="-3.96" y="-3.96" width="7.92" height="7.92" transform="translate(2765.5 397.5) scale(0.652 1) rotate(45)"/>
<rect class="fl" x="-3.96" y="-3.96" width="7.92" height="7.92" transform="translate(2765.5 500.5) scale(0.652 1) rotate(45)"/>
<rect class="fl" x="-3.96" y="-3.96" width="7.92" height="7.92" transform="translate(2765.5 495.5) scale(0.652 1) rotate(45)"/>
<rect class="fl" x="-3.96" y="-3.96" width="7.92" height="7.92" transform="translate(2765.5 429.5) scale(0.652 1) rotate(45)"/>
<rect class="fl" x="-3.96" y="-3.96" width="7.92" height="7.92" transform="translate(2776.5 398.5) scale(0.652 1) rotate(45)"/>
<rect class="fl" x="-3.96" y="-3.96" width="7.92" height="7.92" transform="translate(2776.5 401.5) scale(0.652 1) rotate(45)"/>
<rect class="fl" x="-3.96" y="-3.96" width="7.92" height="7.92" transform="translate(2776.5 508.5) scale(0.652 1) rotate(45)"/>
<rect class="fl" x="-3.96" y="-3.96" width="7.92" height="7.92" transform="translate(2776.5 499.5) scale(0.652 1) rotate(45)"/>
<rect class="fl" x="-3.96" y="-3.96" width="7.92" height="7.92" transform="translate(2787.5 398.5) scale(0.652 1) rotate(45)"/>
<rect class="fl" x="-3.96" y="-3.96" width="7.92" height="7.92" transform="translate(2787.5 511.5) scale(0.652 1) rotate(45)"/>
<rect class="fl" x="-3.96" y="-3.96" width="7.92" height="7.92" transform="translate(2787.5 422.5) scale(0.652 1) rotate(45)"/>
<rect class="fl" x="-3.96" y="-3.96" width="7.92" height="7.92" transform="translate(2797.5 386.5) scale(0.652 1) rotate(45)"/>
<rect class="fl" x="-3.96" y="-3.96" width="7.92" height="7.92" transform="translate(2797.5 511.5) scale(0.652 1) rotate(45)"/>
<rect class="fl" x="-3.96" y="-3.96" width="7.92" height="7.92" transform="translate(2797.5 420.5) scale(0.652 1) rotate(45)"/>
<rect class="fl" x="-3.96" y="-3.96" width="7.92" height="7.92" transform="translate(2808.5 399.5) scale(0.652 1) rotate(45)"/>
<rect class="fl" x="-3.96" y="-3.96" width="7.92" height="7.92" transform="translate(2808.5 424.5) scale(0.652 1) rotate(45)"/>
<rect class="fl" x="-3.96" y="-3.96" width="7.92" height="7.92" transform="translate(2819.5 375.5) scale(0.652 1) rotate(45)"/>
<rect class="fl" x="-3.96" y="-3.96" width="7.92" height="7.92" transform="translate(2819.5 444.5) scale(0.652 1) rotate(45)"/>
<rect class="fl" x="-3.96" y="-3.96" width="7.92" height="7.92" transform="translate(2830.5 382.5) scale(0.652 1) rotate(45)"/>
<rect class="fl" x="-3.96" y="-3.96" width="7.92" height="7.92" transform="translate(2830.5 447.5) scale(0.652 1) rotate(45)"/>
<rect class="fl" x="-3.96" y="-3.96" width="7.92" height="7.92" transform="translate(2841.5 394.5) scale(0.652 1) rotate(45)"/>
<rect class="fl" x="-3.96" y="-3.96" width="7.92" height="7.92" transform="translate(2841.5 441.5) scale(0.652 1) rotate(45)"/>
<rect class="fl" x="-3.96" y="-3.96" width="7.92" height="7.92" transform="translate(2851.5 361.5) scale(0.652 1) rotate(45)"/>
<rect class="fl" x="-3.96" y="-3.96" width="7.92" height="7.92" transform="translate(2851.5 451.5) scale(0.652 1) rotate(45)"/>
<rect class="fl" x="-3.96" y="-3.96" width="7.92" height="7.92" transform="translate(2862.5 335.5) scale(0.652 1) rotate(45)"/>
<rect class="fl" x="-3.96" y="-3.96" width="7.92" height="7.92" transform="translate(2862.5 458.5) scale(0.652 1) rotate(45)"/>
<rect class="fl" x="-3.96" y="-3.96" width="7.92" height="7.92" transform="translate(2873.5 358.5) scale(0.652 1) rotate(45)"/>
<rect class="fl" x="-3.96" y="-3.96" width="7.92" height="7.92" transform="translate(2873.5 468.5) scale(0.652 1) rotate(45)"/>
<rect class="fl" x="-3.96" y="-3.96" width="7.92" height="7.92" transform="translate(2884.5 383.5) scale(0.652 1) rotate(45)"/>
<rect class="fl" x="-3.96" y="-3.96" width="7.92" height="7.92" transform="translate(2884.5 486.5) scale(0.652 1) rotate(45)"/>
<rect class="fl" x="-3.96" y="-3.96" width="7.92" height="7.92" transform="translate(2895.5 414.5) scale(0.652 1) rotate(45)"/>
<rect class="fl" x="-3.96" y="-3.96" width="7.92" height="7.92" transform="translate(2895.5 491.5) scale(0.652 1) rotate(45)"/>
<rect class="fl" x="-3.96" y="-3.96" width="7.92" height="7.92" transform="translate(2905.5 525.5) scale(0.652 1) rotate(45)"/>
<rect class="fl" x="-3.96" y="-3.96" width="7.92" height="7.92" transform="translate(2905.5 491.5) scale(0.652 1) rotate(45)"/>
<rect class="fl" x="-3.96" y="-3.96" width="7.92" height="7.92" transform="translate(2905.5 442.5) scale(0.652 1) rotate(45)"/>
<rect class="fl" x="-3.96" y="-3.96" width="7.92" height="7.92" transform="translate(2916.5 476.5) scale(0.652 1) rotate(45)"/>
<rect class="fl" x="-3.96" y="-3.96" width="7.92" height="7.92" transform="translate(2916.5 464.5) scale(0.652 1) rotate(45)"/>
<rect class="fl" x="-3.96" y="-3.96" width="7.92" height="7.92" transform="translate(2927.5 519.5) scale(0.652 1) rotate(45)"/>
<rect class="fl" x="-3.96" y="-3.96" width="7.92" height="7.92" transform="translate(2927.5 485.5) scale(0.652 1) rotate(45)"/>
<rect class="fl" x="-3.96" y="-3.96" width="7.92" height="7.92" transform="translate(2938.5 519.5) scale(0.652 1) rotate(45)"/>
<rect class="fl" x="-3.96" y="-3.96" width="7.92" height="7.92" transform="translate(2938.5 483.5) scale(0.652 1) rotate(45)"/>
<rect class="fl" x="-3.96" y="-3.96" width="7.92" height="7.92" transform="translate(2938.5 468.5) scale(0.652 1) rotate(45)"/>
<rect class="fl" x="-3.96" y="-3.96" width="7.92" height="7.92" transform="translate(2949.5 529.5) scale(0.652 1) rotate(45)"/>
<rect class="fl" x="-3.96" y="-3.96" width="7.92" height="7.92" transform="translate(2949.5 488.5) scale(0.652 1) rotate(45)"/>
<rect class="fl" x="-3.96" y="-3.96" width="7.92" height="7.92" transform="translate(2949.5 479.5) scale(0.652 1) rotate(45)"/>
<rect class="fl" x="-3.96" y="-3.96" width="7.92" height="7.92" transform="translate(2959.5 524.5) scale(0.652 1) rotate(45)"/>
<rect class="fl" x="-3.96" y="-3.96" width="7.92" height="7.92" transform="translate(2959.5 494.5) scale(0.652 1) rotate(45)"/>
<rect class="fl" x="-3.96" y="-3.96" width="7.92" height="7.92" transform="translate(2959.5 465.5) scale(0.652 1) rotate(45)"/>
<rect class="fl" x="-3.96" y="-3.96" width="7.92" height="7.92" transform="translate(2970.5 489.5) scale(0.652 1) rotate(45)"/>
<rect class="fl" x="-3.96" y="-3.96" width="7.92" height="7.92" transform="translate(2970.5 476.5) scale(0.652 1) rotate(45)"/>
<rect class="fl" x="-3.96" y="-3.96" width="7.92" height="7.92" transform="translate(2981.5 498.5) scale(0.652 1) rotate(45)"/>
<rect class="fl" x="-3.96" y="-3.96" width="7.92" height="7.92" transform="translate(2981.5 482.5) scale(0.652 1) rotate(45)"/>
<rect class="fl" x="-3.96" y="-3.96" width="7.92" height="7.92" transform="translate(2992.5 523.5) scale(0.652 1) rotate(45)"/>
<rect class="fl" x="-3.96" y="-3.96" width="7.92" height="7.92" transform="translate(2992.5 516.5) scale(0.652 1) rotate(45)"/>
<rect class="fl" x="-3.96" y="-3.96" width="7.92" height="7.92" transform="translate(2992.5 473.5) scale(0.652 1) rotate(45)"/>
<rect class="fl" x="-3.96" y="-3.96" width="7.92" height="7.92" transform="translate(3003.5 517.5) scale(0.652 1) rotate(45)"/>
<rect class="fl" x="-3.96" y="-3.96" width="7.92" height="7.92" transform="translate(3003.5 478.5) scale(0.652 1) rotate(45)"/>
<rect class="fl" x="-3.96" y="-3.96" width="7.92" height="7.92" transform="translate(3013.5 480.5) scale(0.652 1) rotate(45)"/>
<rect class="fl" x="-3.96" y="-3.96" width="7.92" height="7.92" transform="translate(3024.5 522.5) scale(0.652 1) rotate(45)"/>
<rect class="fl" x="-3.96" y="-3.96" width="7.92" height="7.92" transform="translate(3024.5 518.5) scale(0.652 1) rotate(45)"/>
<rect class="fl" x="-3.96" y="-3.96" width="7.92" height="7.92" transform="translate(3024.5 526.5) scale(0.652 1) rotate(45)"/>
<rect class="fl" x="-3.96" y="-3.96" width="7.92" height="7.92" transform="translate(3024.5 501.5) scale(0.652 1) rotate(45)"/>
<rect class="fl" x="-3.96" y="-3.96" width="7.92" height="7.92" transform="translate(3035.5 522.5) scale(0.652 1) rotate(45)"/>
<rect class="fl" x="-3.96" y="-3.96" width="7.92" height="7.92" transform="translate(3035.5 499.5) scale(0.652 1) rotate(45)"/>
<rect class="fl" x="-3.96" y="-3.96" width="7.92" height="7.92" transform="translate(3046.5 508.5) scale(0.652 1) rotate(45)"/>
<rect class="fl" x="-3.96" y="-3.96" width="7.92" height="7.92" transform="translate(3067.5 490.5) scale(0.652 1) rotate(45)"/>
<rect class="fl" x="-3.96" y="-3.96" width="7.92" height="7.92" transform="translate(3089.5 488.5) scale(0.652 1) rotate(45)"/>
<rect class="fl" x="-3.96" y="-3.96" width="7.92" height="7.92" transform="translate(3121.5 481.5) scale(0.652 1) rotate(45)"/>
<rect class="fl" x="-3.96" y="-3.96" width="7.92" height="7.92" transform="translate(3121.5 468.5) scale(0.652 1) rotate(45)"/>
<rect class="fl" x="-3.96" y="-3.96" width="7.92" height="7.92" transform="translate(3154.5 467.5) scale(0.652 1) rotate(45)"/>
<rect class="fl" x="-3.96" y="-3.96" width="7.92" height="7.92" transform="translate(3165.5 474.5) scale(0.652 1) rotate(45)"/>
<rect class="fl" x="-3.96" y="-3.96" width="7.92" height="7.92" transform="translate(3175.5 467.5) scale(0.652 1) rotate(45)"/>
<rect class="fl" x="-3.96" y="-3.96" width="7.92" height="7.92" transform="translate(3186.5 447.5) scale(0.652 1) rotate(45)"/>
<rect class="fl" x="-3.96" y="-3.96" width="7.92" height="7.92" transform="translate(3197.5 484.5) scale(0.652 1) rotate(45)"/>
<polyline fill="none" stroke="#0000ff" stroke-width="2.08" stroke-linejoin="round" points="97.1,566.2 107.9,566.2 118.7,566.4 129.5,566.2 140.3,566.4 151.1,564.6 161.9,566.2 172.7,564.4 183.5,562.9 194.3,564.4 205.1,565.7 215.9,563.1 226.7,563.4 237.5,561.4 248.3,560.6 259.1,559.6 269.9,563.9 280.7,562.1 291.5,563.4 302.3,560.9 313.1,559.1 323.9,559.1 334.7,561.4 345.5,554.1 356.3,550.8 367.1,554.9 377.9,558.9 388.7,558.9 399.5,556.4 410.3,554.4 421.1,559.1 431.9,557.6 442.7,556.1 453.5,554.6 464.3,555.6 475.1,557.1 485.9,558.1 496.7,558.1 507.5,564.4 518.3,560.1 529.1,560.6 539.9,562.9 550.7,562.9 561.6,562.1 572.4,564.1 583.2,560.1 594.0,550.3 604.8,553.6 615.6,554.6 626.4,552.4 637.2,551.9 648.0,550.3 658.8,553.4 669.6,543.3 680.4,548.8 691.2,547.8 702.0,544.3 712.8,548.8 723.6,548.3 734.4,551.9 745.2,546.3 756.0,536.8 766.8,538.3 777.6,550.3 788.4,550.8 799.2,547.8 810.0,550.3 820.8,546.8 831.6,552.9 842.4,546.3 853.2,544.3 864.0,542.3 874.8,550.8 885.6,549.3 896.4,556.9 907.2,546.8 918.0,546.3 928.8,548.3 939.6,548.8 950.4,551.4 961.2,552.9 972.0,554.9 982.8,553.9 993.6,558.9 1004.4,558.4 1015.2,556.4 1026.0,559.9 1036.8,559.4 1047.6,553.4 1058.4,544.3 1069.2,538.3 1080.0,546.8 1090.8,547.8 1101.6,555.4 1112.4,552.9 1123.2,557.4 1134.0,553.4 1144.8,558.9 1155.6,550.3 1166.4,556.4 1177.2,548.3 1188.0,548.8 1198.8,551.4 1209.6,553.1 1220.4,551.6 1231.2,549.8 1242.0,546.6 1252.8,546.8 1263.6,552.4 1274.4,531.8 1285.2,544.8 1296.0,552.4 1306.8,553.6 1317.6,555.4 1328.4,552.1 1339.3,554.4 1350.1,557.6 1360.9,559.1 1371.7,555.1 1382.5,558.6 1393.3,554.4 1404.1,554.6 1414.9,553.6 1425.7,556.9 1436.5,557.1 1447.3,557.9 1458.1,554.1 1468.9,558.6 1479.7,559.4 1490.5,559.4 1501.3,558.1 1512.1,557.1 1522.9,561.6 1533.7,558.6 1544.5,556.1 1555.3,559.1 1566.1,560.9 1576.9,560.4 1587.7,560.1 1598.5,557.6 1609.3,552.6 1620.1,557.9 1630.9,562.6 1641.7,561.6 1652.5,556.1 1663.3,558.1 1674.1,561.4 1684.9,561.9 1695.7,560.6 1706.5,559.4 1717.3,555.4 1728.1,557.4 1738.9,560.6 1749.7,557.4 1760.5,557.9 1771.3,561.9 1782.1,560.6 1792.9,559.6 1803.7,558.4 1814.5,558.4 1825.3,555.9 1836.1,557.6 1846.9,557.4 1857.7,555.6 1868.5,554.9 1879.3,552.6 1890.1,554.4 1900.9,555.6 1911.7,556.4 1922.5,545.1 1933.3,550.6 1944.1,550.6 1954.9,545.3 1965.7,544.3 1976.5,549.8 1987.3,546.3 1998.1,541.3 2008.9,544.3 2019.7,538.6 2030.5,540.6 2041.3,533.0 2052.1,536.0 2062.9,526.8 2073.7,528.5 2084.5,530.3 2095.3,513.5 2106.2,510.7 2117.0,505.2 2127.8,502.4 2138.6,491.4 2149.4,489.9 2160.2,480.9 2171.0,490.1 2181.8,499.4 2192.6,506.2 2203.4,481.9 2214.2,494.2 2225.0,487.1 2235.8,489.4 2246.6,488.1 2257.4,484.4 2268.2,485.1 2279.0,507.9 2289.8,490.4 2300.6,468.8 2311.4,467.6 2322.2,463.0 2333.0,467.6 2343.8,467.6 2354.6,469.1 2365.4,479.9 2376.2,479.3 2387.0,476.8 2397.8,481.6 2408.6,485.4 2419.4,491.4 2430.2,491.1 2441.0,476.3 2451.8,481.4 2462.6,476.6 2473.4,490.6 2484.2,474.3 2495.0,475.1 2505.8,489.6 2516.6,482.4 2527.4,470.1 2538.2,477.1 2549.0,472.1 2559.8,481.6 2570.6,485.6 2581.4,497.9 2592.2,500.2 2603.0,486.9 2613.8,497.7 2624.6,503.2 2635.4,513.2 2646.2,513.2 2657.0,513.2 2667.8,517.5 2678.6,522.8 2689.4,525.5 2700.2,535.8 2711.0,534.0 2721.8,534.0 2732.6,535.5 2743.4,547.6 2754.2,551.9 2765.0,551.9 2775.8,550.8 2786.6,555.4 2797.4,555.9 2808.2,558.4 2819.0,562.4 2829.8,565.9 2840.6,565.4 2851.4,565.1 2862.2,565.7 2873.0,566.4 2883.9,565.9 2894.7,565.7 2905.5,565.9 2916.3,566.2 2927.1,566.7 2937.9,566.7 2948.7,566.7 2959.5,566.7 2970.3,565.4 2981.1,564.9 2991.9,565.9 3002.7,565.4 3013.5,565.4 3024.3,566.7 3035.1,565.9 3045.9,565.7 3056.7,564.9 3067.5,566.2 3078.3,565.9 3089.1,566.4 3099.9,564.9 3110.7,563.4 3121.5,565.1 3132.3,565.4 3143.1,565.7 3153.9,563.4 3164.7,564.4 3175.5,565.9 3186.3,564.4 3197.1,564.4"/>
<line x1="164" x2="164" y1="54.0" y2="591.0" stroke="#4c72b0" stroke-width="2"/>
<line x1="246" x2="246" y1="54.0" y2="591.0" stroke="#4c72b0" stroke-width="2"/>
<line x1="448" x2="448" y1="54.0" y2="591.0" stroke="#4c72b0" stroke-width="2"/>
<line x1="1424" x2="1424" y1="54.0" y2="591.0" stroke="#4c72b0" stroke-width="2"/>
<line x1="2575" x2="2575" y1="54.0" y2="591.0" stroke="#4c72b0" stroke-width="2"/>
</g>
<text class="an" transform="translate(167.2 105.9) scale(0.955 1.07)">FN</text>
<text class="an" transform="translate(167.2 126.7) scale(0.955 1.07)">Set</text>
<text class="an" transform="translate(249.3 105.9) scale(0.955 1.07)">EM</text>
<text class="an" transform="translate(249.3 126.7) scale(0.955 1.07)">Set</text>
<text class="an" transform="translate(451.5 105.9) scale(0.955 1.07)">DM</text>
<text class="an" transform="translate(451.5 126.7) scale(0.955 1.07)">Set</text>
<text class="an" transform="translate(1427.2 105.9) scale(0.955 1.07)">PM</text>
<text class="an" transform="translate(1427.2 126.7) scale(0.955 1.07)">Set</text>
<text class="an" transform="translate(2578.2 105.9) scale(0.955 1.07)">JN</text>
<text class="an" transform="translate(2578.2 126.7) scale(0.955 1.07)">Set</text>
<text class="tk" text-anchor="end" transform="translate(83.3 573.9) scale(0.968 1.07)">0</text>
<text class="tk" text-anchor="end" transform="translate(83.3 464.3) scale(0.968 1.07)">10000</text>
<text class="tk" text-anchor="end" transform="translate(83.3 354.7) scale(0.968 1.07)">20000</text>
<text class="tk" text-anchor="end" transform="translate(83.3 245.1) scale(0.968 1.07)">30000</text>
<text class="tk" text-anchor="end" transform="translate(83.3 135.5) scale(0.968 1.07)">40000</text>
<text class="tk" text-anchor="end" transform="translate(101.1 607.2) rotate(-90) scale(0.985 1.07)">00:00Z</text>
<text class="tk" text-anchor="end" transform="translate(165.9 607.2) rotate(-90) scale(0.985 1.07)">00:30Z</text>
<text class="tk" text-anchor="end" transform="translate(230.7 607.2) rotate(-90) scale(0.985 1.07)">01:00Z</text>
<text class="tk" text-anchor="end" transform="translate(295.5 607.2) rotate(-90) scale(0.985 1.07)">01:30Z</text>
<text class="tk" text-anchor="end" transform="translate(360.3 607.2) rotate(-90) scale(0.985 1.07)">02:00Z</text>
<text class="tk" text-anchor="end" transform="translate(425.1 607.2) rotate(-90) scale(0.985 1.07)">02:30Z</text>
<text class="tk" text-anchor="end" transform="translate(489.9 607.2) rotate(-90) scale(0.985 1.07)">03:00Z</text>
<text class="tk" text-anchor="end" transform="translate(554.7 607.2) rotate(-90) scale(0.985 1.07)">03:30Z</text>
<text class="tk" text-anchor="end" transform="translate(619.6 607.2) rotate(-90) scale(0.985 1.07)">04:00Z</text>
<text class="tk" text-anchor="end" transform="translate(685.4 607.6) rotate(-90) scale(0.985 1.07)">04:30Z</text>
<text class="tk" text-anchor="end" transform="translate(750.2 607.6) rotate(-90) scale(0.985 1.07)">05:00Z</text>
<text class="tk" text-anchor="end" transform="translate(815.0 607.6) rotate(-90) scale(0.985 1.07)">05:30Z</text>
<text class="tk" text-anchor="end" transform="translate(879.8 607.6) rotate(-90) scale(0.985 1.07)">06:00Z</text>
<text class="tk" text-anchor="end" transform="translate(944.6 607.6) rotate(-90) scale(0.985 1.07)">06:30Z</text>
<text class="tk" text-anchor="end" transform="translate(1009.4 607.6) rotate(-90) scale(0.985 1.07)">07:00Z</text>
<text class="tk" text-anchor="end" transform="translate(1074.2 607.6) rotate(-90) scale(0.985 1.07)">07:30Z</text>
<text class="tk" text-anchor="end" transform="translate(1139.0 607.6) rotate(-90) scale(0.985 1.07)">08:00Z</text>
<text class="tk" text-anchor="end" transform="translate(1203.8 607.6) rotate(-90) scale(0.985 1.07)">08:30Z</text>
<text class="tk" text-anchor="end" transform="translate(1268.6 607.6) rotate(-90) scale(0.985 1.07)">09:00Z</text>
<text class="tk" text-anchor="end" transform="translate(1333.4 607.6) rotate(-90) scale(0.985 1.07)">09:30Z</text>
<text class="tk" text-anchor="end" transform="translate(1398.3 607.6) rotate(-90) scale(0.985 1.07)">10:00Z</text>
<text class="tk" text-anchor="end" transform="translate(1463.1 607.6) rotate(-90) scale(0.985 1.07)">10:30Z</text>
<text class="tk" text-anchor="end" transform="translate(1527.9 607.6) rotate(-90) scale(0.985 1.07)">11:00Z</text>
<text class="tk" text-anchor="end" transform="translate(1592.7 607.6) rotate(-90) scale(0.985 1.07)">11:30Z</text>
<text class="tk" text-anchor="end" transform="translate(1657.5 607.6) rotate(-90) scale(0.985 1.07)">12:00Z</text>
<text class="tk" text-anchor="end" transform="translate(1722.3 607.6) rotate(-90) scale(0.985 1.07)">12:30Z</text>
<text class="tk" text-anchor="end" transform="translate(1787.1 607.6) rotate(-90) scale(0.985 1.07)">13:00Z</text>
<text class="tk" text-anchor="end" transform="translate(1851.9 607.6) rotate(-90) scale(0.985 1.07)">13:30Z</text>
<text class="tk" text-anchor="end" transform="translate(1916.7 607.6) rotate(-90) scale(0.985 1.07)">14:00Z</text>
<text class="tk" text-anchor="end" transform="translate(1981.5 607.6) rotate(-90) scale(0.985 1.07)">14:30Z</text>
<text class="tk" text-anchor="end" transform="translate(2046.3 607.6) rotate(-90) scale(0.985 1.07)">15:00Z</text>
<text class="tk" text-anchor="end" transform="translate(2111.2 607.6) rotate(-90) scale(0.985 1.07)">15:30Z</text>
<text class="tk" text-anchor="end" transform="translate(2176.0 607.6) rotate(-90) scale(0.985 1.07)">16:00Z</text>
<text class="tk" text-anchor="end" transform="translate(2240.8 607.6) rotate(-90) scale(0.985 1.07)">16:30Z</text>
<text class="tk" text-anchor="end" transform="translate(2305.6 608.0) rotate(-90) scale(0.985 1.07)">17:00Z</text>
<text class="tk" text-anchor="end" transform="translate(2370.4 608.0) rotate(-90) scale(0.985 1.07)">17:30Z</text>
<text class="tk" text-anchor="end" transform="translate(2435.2 608.0) rotate(-90) scale(0.985 1.07)">18:00Z</text>
<text class="tk" text-anchor="end" transform="translate(2500.0 608.0) rotate(-90) scale(0.985 1.07)">18:30Z</text>
<text class="tk" text-anchor="end" transform="translate(2564.8 608.0) rotate(-90) scale(0.985 1.07)">19:00Z</text>
<text class="tk" text-anchor="end" transform="translate(2629.6 608.0) rotate(-90) scale(0.985 1.07)">19:30Z</text>
<text class="tk" text-anchor="end" transform="translate(2694.4 608.0) rotate(-90) scale(0.985 1.07)">20:00Z</text>
<text class="tk" text-anchor="end" transform="translate(2759.2 608.0) rotate(-90) scale(0.985 1.07)">20:30Z</text>
<text class="tk" text-anchor="end" transform="translate(2824.0 608.0) rotate(-90) scale(0.985 1.07)">21:00Z</text>
<text class="tk" text-anchor="end" transform="translate(2888.9 608.0) rotate(-90) scale(0.985 1.07)">21:30Z</text>
<text class="tk" text-anchor="end" transform="translate(2953.7 608.0) rotate(-90) scale(0.985 1.07)">22:00Z</text>
<text class="tk" text-anchor="end" transform="translate(3018.5 608.0) rotate(-90) scale(0.985 1.07)">22:30Z</text>
<text class="tk" text-anchor="end" transform="translate(3083.3 608.0) rotate(-90) scale(0.985 1.07)">23:00Z</text>
<text class="tk" text-anchor="end" transform="translate(3148.1 608.0) rotate(-90) scale(0.985 1.07)">23:30Z</text>
<text class="lb" text-anchor="middle" transform="translate(24.8 323.2) rotate(-90) scale(1.0 1.04)">Spot Count</text>
<text class="lb" text-anchor="middle" transform="translate(1646.8 680.9) scale(0.995 1.04)">Time of Day</text>
<text class="ti" text-anchor="middle" transform="translate(1646.8 24.3) scale(0.9965 1.07)">Comparison of Spot Counts on 2025.07.10 to Previous 21 Days</text>
<text class="ti" text-anchor="middle" transform="translate(1646.8 45.2) scale(0.985 1.07)">6m</text>
</svg></body></html>
